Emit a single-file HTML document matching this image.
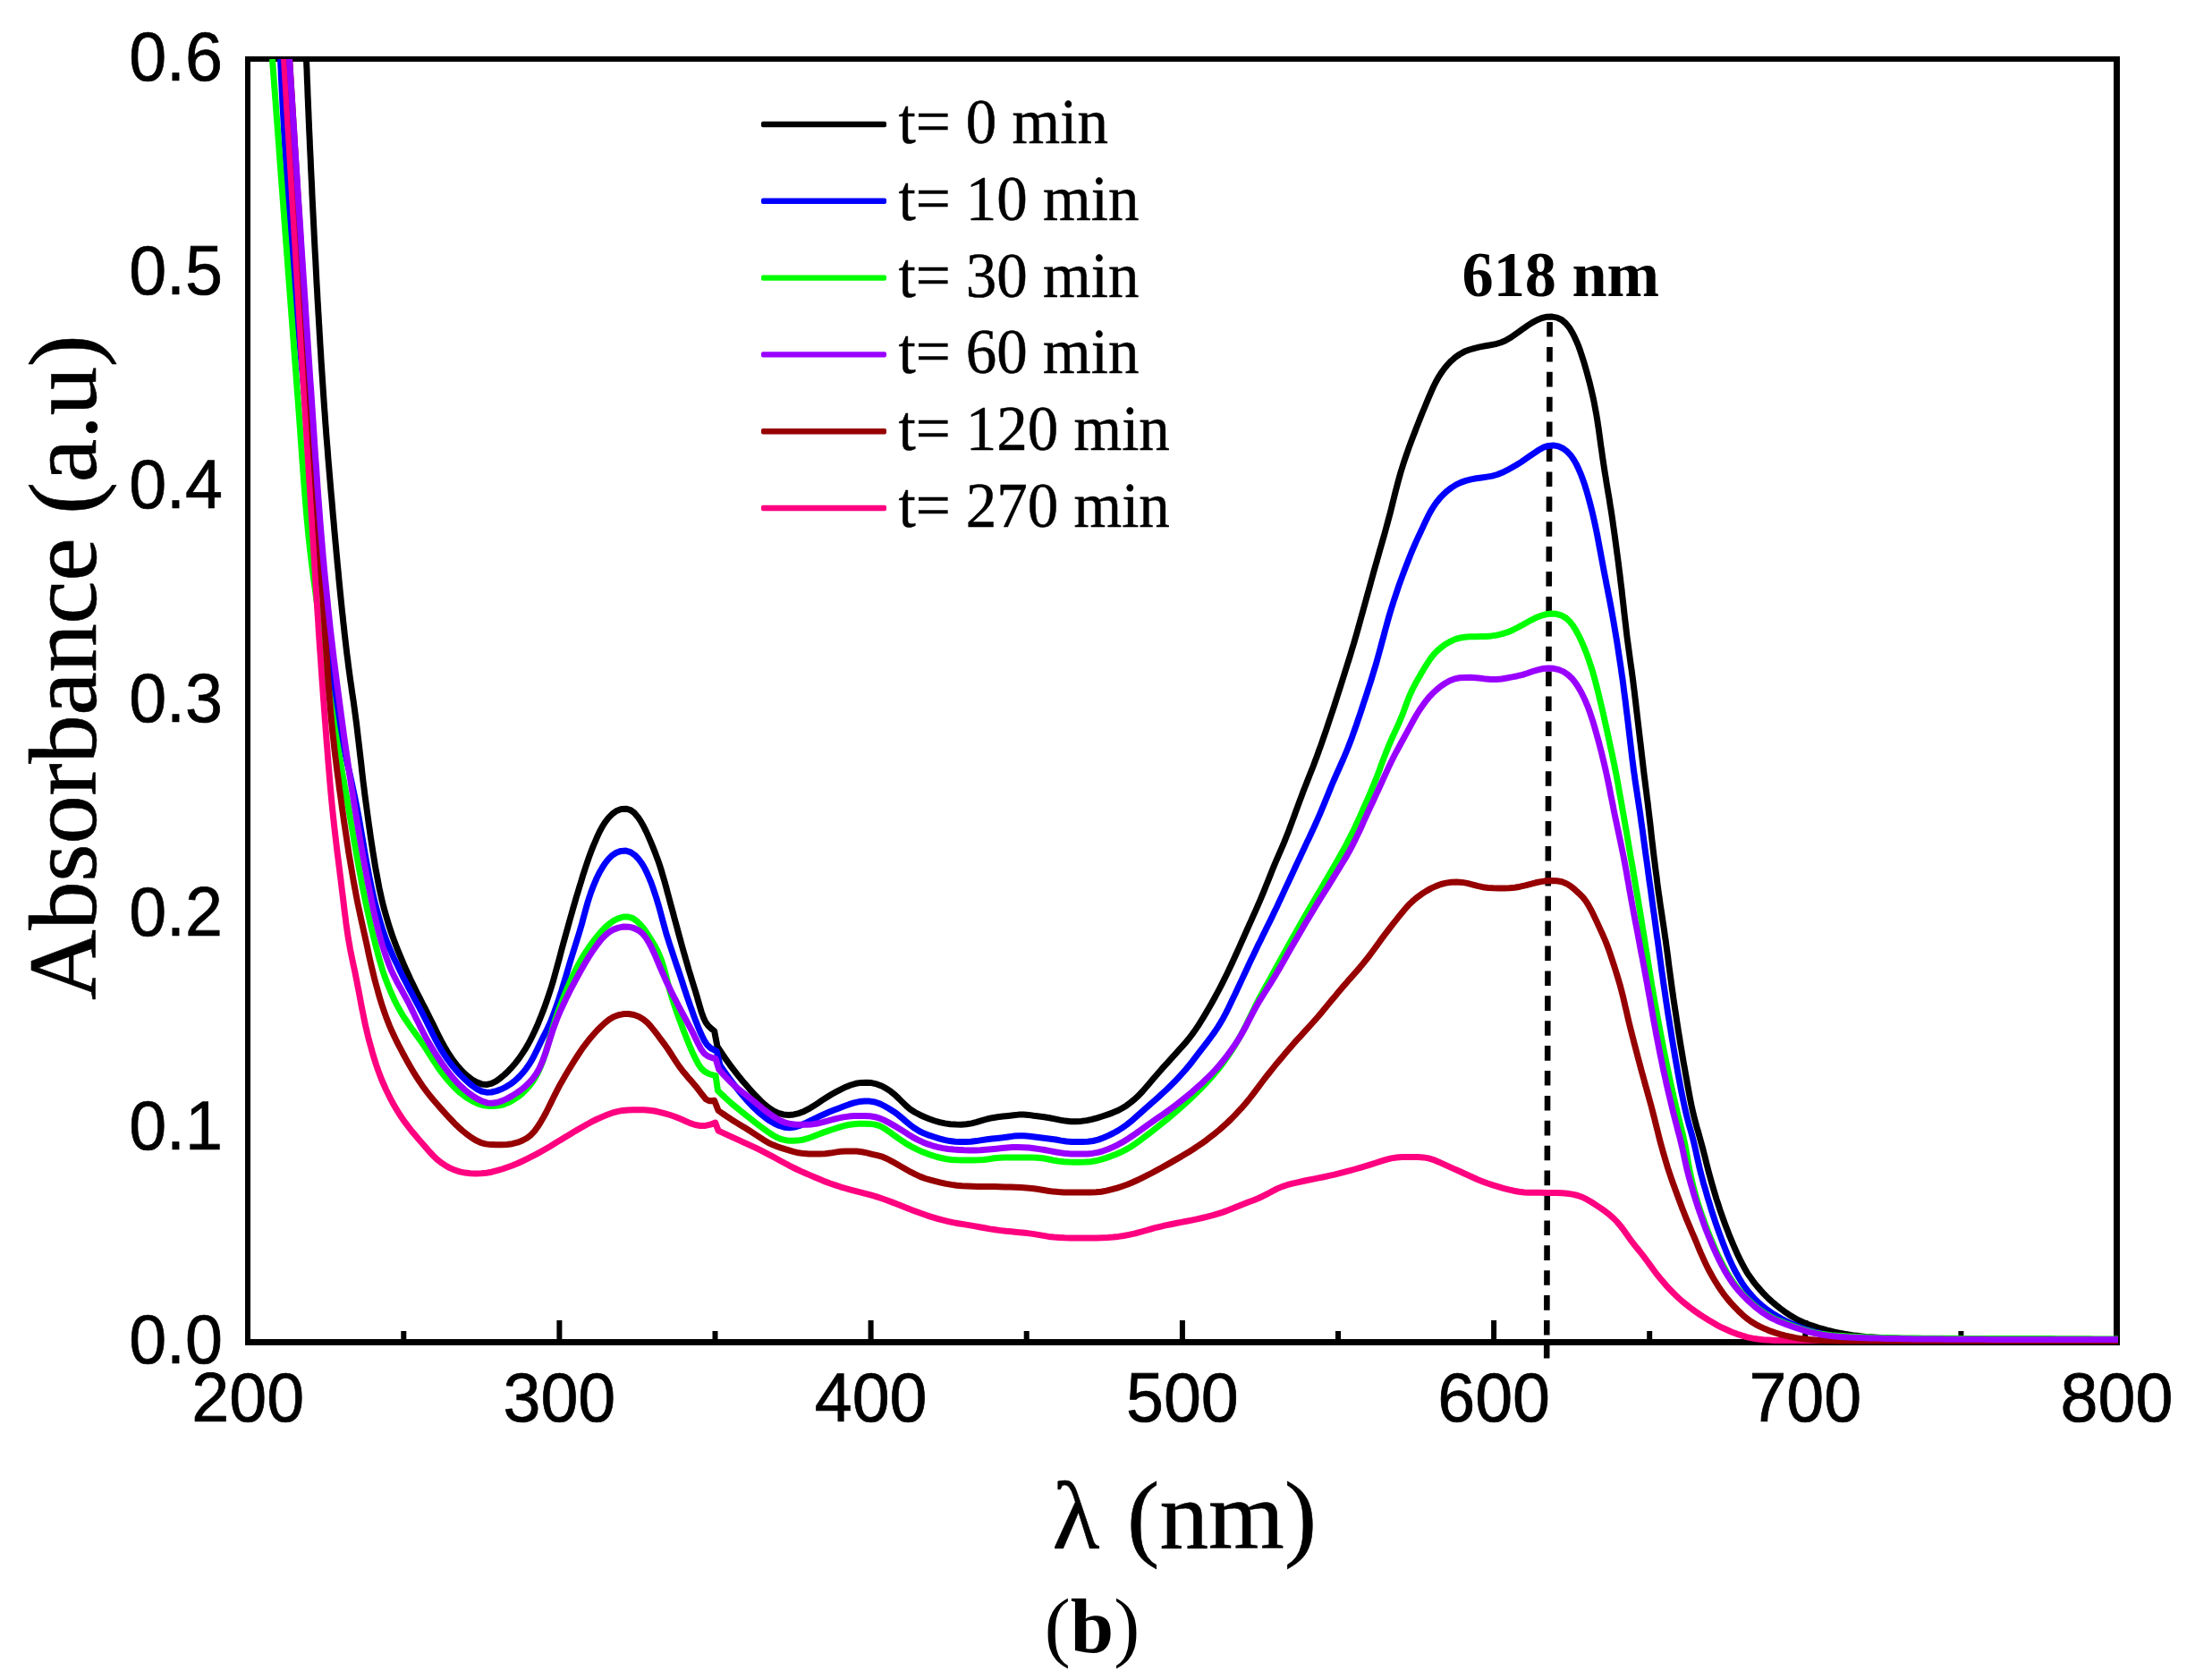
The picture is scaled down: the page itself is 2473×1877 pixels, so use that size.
<!DOCTYPE html>
<html lang="en">
<head>
<meta charset="utf-8">
<title>UV-Vis absorbance spectra (b)</title>
<style>
html,body{margin:0;padding:0;background:#ffffff;}
body{width:2473px;height:1877px;overflow:hidden;}
svg{display:block;}
.sans{font-family:"Liberation Sans",Arial,sans-serif;}
.serif{font-family:"Liberation Serif","Times New Roman",serif;}
</style>
</head>
<body>
<svg width="2473" height="1877" viewBox="0 0 2473 1877">
<rect x="0" y="0" width="2473" height="1877" fill="#ffffff"/>
<defs><clipPath id="plotclip"><rect x="277" y="66" width="2091" height="1437"/></clipPath></defs>

<g id="frame" fill="#000000" stroke="none">
<rect x="274" y="63" width="2096" height="6"/>
<rect x="274" y="1497" width="2096" height="7"/>
<rect x="274" y="63" width="6" height="1441"/>
<rect x="2363" y="63" width="7" height="1441"/>
<rect x="622.4" y="1476" width="6" height="22"/>
<rect x="970.6" y="1476" width="6" height="22"/>
<rect x="1318.9" y="1476" width="6" height="22"/>
<rect x="1667.1" y="1476" width="6" height="22"/>
<rect x="2015.3" y="1476" width="6" height="22"/>
<rect x="448.3" y="1488" width="6" height="10"/>
<rect x="796.5" y="1488" width="6" height="10"/>
<rect x="1144.7" y="1488" width="6" height="10"/>
<rect x="1493.0" y="1488" width="6" height="10"/>
<rect x="1841.2" y="1488" width="6" height="10"/>
<rect x="2189.4" y="1488" width="6" height="10"/>
</g>
<line id="peakline" x1="1732.6" y1="360" x2="1729.2" y2="1518.5" stroke="#000000" stroke-width="6.6" stroke-dasharray="16.6 11.3"/>
<g id="curves" fill="none" stroke-width="7.0" stroke-linejoin="round" stroke-linecap="butt" clip-path="url(#plotclip)">
<path id="c-black" stroke="#000000" d="M342.5 66.0L342.7 72.0L343.0 78.0L343.2 84.0L343.4 90.0L343.7 96.0L343.9 102.0L344.1 108.0L344.4 114.0L344.6 120.0L344.9 126.0L345.1 132.0L345.4 138.1L345.6 144.1L345.9 150.1L346.2 156.1L346.4 162.1L346.7 168.1L347.0 174.1L347.3 180.1L347.5 186.1L347.8 192.1L348.1 198.1L348.4 204.1L348.7 210.1L348.9 216.1L349.2 222.1L349.5 228.1L349.8 234.1L350.1 240.1L350.4 246.1L350.7 252.1L351.0 258.1L351.3 264.1L351.6 270.1L351.9 276.1L352.2 282.1L352.6 288.1L352.9 294.1L353.2 300.1L353.5 306.1L353.8 312.1L354.1 318.1L354.5 324.1L354.8 330.1L355.1 336.1L355.5 342.1L355.8 348.1L356.2 354.1L356.5 360.1L356.9 366.1L357.2 372.1L357.6 378.1L357.9 384.1L358.3 390.1L358.7 396.1L359.0 402.1L359.4 408.1L359.8 414.1L360.2 420.1L360.6 426.1L361.0 432.1L361.4 438.1L361.8 444.1L362.2 450.0L362.6 456.0L363.1 462.0L363.5 468.0L363.9 474.0L364.4 480.0L364.8 486.0L365.3 492.0L365.8 498.0L366.3 504.0L366.7 510.0L367.2 516.0L367.7 521.9L368.2 527.9L368.7 533.9L369.2 539.9L369.7 545.9L370.2 551.9L370.8 557.9L371.3 563.9L371.8 569.8L372.3 575.8L372.9 581.8L373.4 587.8L373.9 593.8L374.5 599.8L375.0 605.7L375.6 611.7L376.1 617.7L376.7 623.7L377.2 629.7L377.8 635.7L378.4 641.6L378.9 647.6L379.5 653.6L380.1 659.6L380.7 665.6L381.3 671.5L381.9 677.5L382.5 683.5L383.2 689.5L383.8 695.5L384.5 701.4L385.1 707.4L385.8 713.4L386.5 719.3L387.2 725.3L387.9 731.3L388.7 737.2L389.4 743.2L390.2 749.2L391.0 755.1L391.8 761.1L392.7 767.0L393.5 773.0L394.4 778.9L395.3 784.8L396.1 790.8L396.9 796.7L397.7 802.7L398.5 808.7L399.2 814.6L399.9 820.6L400.6 826.6L401.3 832.5L402.0 838.5L402.7 844.5L403.4 850.4L404.1 856.4L404.7 862.4L405.4 868.4L406.1 874.3L406.9 880.3L407.6 886.3L408.4 892.2L409.2 898.2L410.0 904.1L410.8 910.1L411.6 916.0L412.4 922.0L413.3 927.9L414.1 933.9L415.0 939.9L415.9 945.8L416.8 951.8L417.8 957.7L418.7 963.6L419.7 969.6L420.8 975.5L421.9 981.4L423.0 987.3L424.1 993.2L425.4 999.0L426.7 1004.9L428.1 1010.7L429.6 1016.5L431.2 1022.3L432.9 1028.1L434.6 1033.9L436.5 1039.6L438.4 1045.3L440.4 1050.9L442.5 1056.5L444.7 1062.1L447.0 1067.7L449.3 1073.2L451.7 1078.8L454.1 1084.3L456.6 1089.7L459.1 1095.2L461.7 1100.6L464.4 1106.0L467.0 1111.4L469.8 1116.7L472.5 1122.1L475.3 1127.4L478.0 1132.8L480.7 1138.2L483.4 1143.6L486.1 1149.0L488.7 1154.5L491.4 1159.9L494.2 1165.3L497.1 1170.5L500.1 1175.6L503.4 1180.6L506.8 1185.6L510.5 1190.4L514.5 1195.1L518.6 1199.5L523.1 1203.4L527.9 1207.0L533.0 1209.9L538.4 1211.9L543.9 1212.5L549.2 1211.4L554.4 1208.8L559.3 1205.3L564.0 1201.4L568.4 1197.2L572.5 1192.8L576.5 1188.2L580.2 1183.4L583.6 1178.4L586.9 1173.4L589.9 1168.3L592.7 1163.1L595.4 1157.7L598.0 1152.3L600.5 1146.8L602.8 1141.2L605.1 1135.5L607.3 1129.9L609.4 1124.2L611.4 1118.5L613.3 1112.9L615.2 1107.2L617.0 1101.5L618.7 1095.7L620.3 1089.9L621.9 1084.1L623.5 1078.3L625.1 1072.5L626.6 1066.7L628.1 1060.9L629.7 1055.0L631.3 1049.2L632.9 1043.4L634.5 1037.7L636.1 1031.9L637.7 1026.1L639.4 1020.3L641.0 1014.5L642.7 1008.7L644.3 1003.0L646.1 997.2L647.8 991.4L649.6 985.7L651.3 979.9L653.2 974.2L655.0 968.5L656.9 962.8L658.9 957.1L661.0 951.5L663.2 945.9L665.6 940.3L668.0 934.7L670.7 929.1L673.5 923.8L676.7 918.8L680.4 914.1L684.6 909.9L689.3 906.5L694.6 904.5L699.9 904.2L705.0 905.7L709.4 908.9L713.2 913.4L716.5 918.4L719.5 923.7L722.2 929.1L724.7 934.6L727.1 940.1L729.4 945.7L731.7 951.3L733.8 956.9L735.9 962.5L737.8 968.2L739.6 973.9L741.3 979.7L743.0 985.5L744.6 991.3L746.1 997.1L747.7 1002.9L749.2 1008.7L750.8 1014.5L752.4 1020.3L753.9 1026.1L755.5 1031.9L757.1 1037.7L758.6 1043.5L760.2 1049.3L761.8 1055.1L763.4 1060.9L765.1 1066.7L766.7 1072.4L768.4 1078.2L770.0 1084.0L771.8 1089.8L773.5 1095.5L775.3 1101.3L777.1 1107.0L778.9 1112.9L780.6 1119.0L782.4 1125.2L784.2 1131.3L786.3 1137.2L788.7 1142.4L791.8 1146.8L795.7 1150.4L798.6 1152.5L802.0 1170.0L805.3 1175.0L808.7 1180.0L812.1 1184.9L815.6 1189.8L819.2 1194.6L822.9 1199.4L826.6 1204.1L830.4 1208.7L834.4 1213.3L838.3 1217.8L842.4 1222.3L846.6 1226.7L850.8 1231.0L855.2 1235.1L859.9 1238.8L864.9 1242.0L870.2 1244.4L875.9 1245.9L881.7 1246.4L887.5 1245.9L893.2 1244.6L898.8 1242.4L904.1 1239.7L909.3 1236.6L914.3 1233.3L919.3 1229.9L924.3 1226.7L929.5 1223.5L934.7 1220.6L940.1 1217.8L945.5 1215.2L951.1 1213.0L956.8 1211.3L962.6 1210.4L968.5 1210.2L974.4 1210.6L980.1 1211.9L985.6 1214.0L990.9 1216.8L995.9 1220.2L1000.6 1224.0L1004.9 1228.1L1009.2 1232.4L1013.4 1236.5L1017.9 1240.3L1022.9 1243.5L1028.2 1246.2L1033.7 1248.7L1039.3 1251.0L1044.9 1253.0L1050.7 1254.6L1056.5 1255.9L1062.5 1256.7L1068.5 1257.1L1074.4 1257.2L1080.4 1256.8L1086.2 1255.9L1092.0 1254.4L1097.7 1252.7L1103.5 1251.0L1109.4 1249.7L1115.3 1248.8L1121.3 1248.1L1127.2 1247.5L1133.1 1246.8L1138.9 1246.1L1144.5 1245.9L1150.0 1246.4L1155.6 1247.2L1161.5 1247.9L1167.4 1248.7L1173.4 1249.7L1179.3 1250.9L1185.2 1252.1L1191.1 1253.1L1197.0 1253.7L1203.0 1253.8L1208.9 1253.4L1214.9 1252.6L1220.7 1251.3L1226.5 1249.8L1232.3 1248.0L1238.0 1246.1L1243.6 1244.1L1249.1 1241.8L1254.4 1239.0L1259.5 1235.9L1264.3 1232.3L1268.9 1228.5L1273.3 1224.4L1277.4 1220.0L1281.3 1215.5L1285.2 1210.9L1289.1 1206.3L1293.1 1201.7L1297.0 1197.2L1301.0 1192.7L1305.0 1188.3L1309.0 1183.8L1313.1 1179.3L1317.1 1174.9L1321.2 1170.4L1325.2 1165.9L1329.0 1161.3L1332.6 1156.6L1336.1 1151.7L1339.5 1146.8L1342.7 1141.7L1345.8 1136.6L1348.9 1131.4L1351.9 1126.2L1354.9 1121.0L1357.8 1115.7L1360.7 1110.4L1363.5 1105.1L1366.2 1099.8L1368.9 1094.4L1371.6 1089.0L1374.2 1083.6L1376.7 1078.2L1379.2 1072.7L1381.7 1067.2L1384.2 1061.8L1386.6 1056.3L1389.1 1050.8L1391.5 1045.3L1394.0 1039.8L1396.4 1034.3L1398.9 1028.9L1401.3 1023.4L1403.8 1017.9L1406.2 1012.4L1408.6 1006.9L1410.9 1001.4L1413.2 995.8L1415.4 990.2L1417.7 984.7L1419.9 979.1L1422.1 973.5L1424.4 967.9L1426.7 962.4L1429.1 956.9L1431.5 951.4L1433.9 945.9L1436.2 940.3L1438.4 934.8L1440.6 929.2L1442.7 923.6L1444.8 917.9L1446.9 912.3L1448.9 906.6L1451.0 901.0L1453.1 895.3L1455.2 889.7L1457.3 884.1L1459.5 878.5L1461.7 872.9L1463.9 867.3L1466.1 861.8L1468.3 856.2L1470.4 850.5L1472.5 844.9L1474.5 839.3L1476.6 833.6L1478.6 827.9L1480.5 822.3L1482.5 816.6L1484.4 810.9L1486.3 805.2L1488.2 799.5L1490.1 793.8L1492.0 788.1L1493.8 782.4L1495.6 776.7L1497.5 770.9L1499.3 765.2L1501.1 759.5L1502.9 753.8L1504.7 748.0L1506.5 742.3L1508.3 736.6L1510.1 730.8L1511.8 725.1L1513.6 719.3L1515.2 713.6L1516.9 707.8L1518.5 702.0L1520.1 696.2L1521.7 690.4L1523.3 684.7L1524.9 678.9L1526.5 673.1L1528.1 667.3L1529.7 661.5L1531.3 655.7L1532.9 649.9L1534.5 644.1L1536.1 638.3L1537.7 632.6L1539.4 626.8L1541.0 621.0L1542.6 615.2L1544.3 609.5L1545.9 603.7L1547.6 597.9L1549.2 592.1L1550.8 586.3L1552.3 580.5L1553.9 574.7L1555.4 568.9L1556.8 563.1L1558.3 557.2L1559.7 551.4L1561.2 545.6L1562.7 539.8L1564.3 534.0L1565.9 528.2L1567.7 522.5L1569.5 516.8L1571.4 511.1L1573.4 505.4L1575.4 499.7L1577.5 494.1L1579.6 488.5L1581.8 482.9L1583.9 477.3L1586.1 471.7L1588.3 466.1L1590.6 460.5L1592.9 455.0L1595.2 449.4L1597.5 443.9L1599.9 438.3L1602.4 432.8L1605.0 427.5L1607.9 422.2L1611.1 417.1L1614.6 412.3L1618.4 407.6L1622.6 403.3L1627.1 399.4L1632.0 396.0L1637.2 393.1L1642.7 391.0L1648.4 389.3L1654.3 387.9L1660.3 386.8L1666.2 385.8L1672.1 384.6L1677.7 383.0L1683.1 380.8L1688.2 377.8L1693.2 374.4L1698.2 370.9L1703.1 367.3L1708.0 363.9L1713.1 360.6L1718.4 357.7L1723.9 355.5L1729.6 354.2L1735.3 354.1L1740.8 355.1L1745.9 357.5L1750.3 361.2L1754.1 365.7L1757.3 370.8L1760.1 376.2L1762.6 381.7L1764.9 387.2L1766.9 392.8L1768.8 398.6L1770.6 404.3L1772.3 410.1L1774.0 415.9L1775.5 421.7L1777.1 427.5L1778.5 433.3L1779.9 439.2L1781.2 445.1L1782.4 450.9L1783.5 456.8L1784.6 462.7L1785.6 468.7L1786.5 474.6L1787.4 480.5L1788.2 486.5L1789.0 492.4L1789.8 498.4L1790.7 504.3L1791.5 510.3L1792.4 516.2L1793.3 522.2L1794.2 528.1L1795.2 534.0L1796.1 540.0L1797.1 545.9L1798.1 551.8L1799.1 557.7L1800.0 563.7L1801.0 569.6L1801.9 575.5L1802.8 581.5L1803.6 587.4L1804.5 593.4L1805.3 599.3L1806.1 605.3L1806.9 611.2L1807.7 617.2L1808.5 623.1L1809.3 629.1L1810.0 635.0L1810.8 641.0L1811.5 647.0L1812.2 652.9L1813.0 658.9L1813.6 664.8L1814.3 670.8L1815.0 676.8L1815.6 682.7L1816.3 688.7L1817.0 694.7L1817.7 700.7L1818.4 706.6L1819.1 712.6L1819.9 718.5L1820.7 724.5L1821.5 730.4L1822.3 736.4L1823.1 742.3L1824.0 748.3L1824.8 754.2L1825.6 760.2L1826.3 766.1L1827.1 772.1L1827.8 778.1L1828.5 784.0L1829.2 790.0L1829.9 796.0L1830.6 801.9L1831.3 807.9L1832.0 813.9L1832.7 819.8L1833.4 825.8L1834.1 831.7L1834.8 837.7L1835.5 843.7L1836.2 849.6L1836.9 855.6L1837.6 861.6L1838.3 867.5L1839.1 873.5L1839.8 879.4L1840.6 885.4L1841.3 891.4L1842.1 897.3L1842.8 903.3L1843.5 909.3L1844.2 915.2L1844.9 921.2L1845.6 927.1L1846.2 933.1L1846.9 939.1L1847.6 945.0L1848.3 951.0L1849.0 957.0L1849.8 962.9L1850.5 968.9L1851.3 974.9L1852.1 980.8L1852.8 986.8L1853.6 992.7L1854.4 998.7L1855.3 1004.6L1856.1 1010.6L1857.0 1016.5L1857.9 1022.4L1858.8 1028.4L1859.7 1034.3L1860.6 1040.3L1861.4 1046.2L1862.3 1052.1L1863.1 1058.1L1863.9 1064.0L1864.7 1070.0L1865.4 1076.0L1866.2 1081.9L1867.0 1087.9L1867.8 1093.8L1868.6 1099.8L1869.4 1105.7L1870.3 1111.7L1871.1 1117.6L1872.0 1123.6L1872.9 1129.5L1873.8 1135.4L1874.7 1141.4L1875.6 1147.3L1876.5 1153.2L1877.5 1159.2L1878.4 1165.1L1879.4 1171.0L1880.4 1176.9L1881.4 1182.9L1882.4 1188.8L1883.5 1194.7L1884.5 1200.6L1885.6 1206.5L1886.6 1212.4L1887.7 1218.4L1888.8 1224.3L1889.9 1230.2L1891.1 1236.1L1892.4 1241.9L1893.8 1247.7L1895.3 1253.6L1896.8 1259.4L1898.5 1265.1L1900.1 1270.9L1901.7 1276.7L1903.3 1282.5L1904.8 1288.3L1906.3 1294.1L1907.7 1300.0L1909.2 1305.8L1910.7 1311.6L1912.3 1317.4L1913.9 1323.2L1915.6 1329.0L1917.3 1334.7L1919.0 1340.5L1920.9 1346.2L1922.7 1351.9L1924.7 1357.6L1926.7 1363.2L1928.7 1368.9L1930.9 1374.5L1933.0 1380.1L1935.3 1385.7L1937.6 1391.2L1940.0 1396.7L1942.5 1402.2L1945.1 1407.6L1947.8 1412.9L1950.7 1418.2L1953.7 1423.4L1957.1 1428.3L1960.6 1433.2L1964.4 1437.9L1968.3 1442.4L1972.3 1446.8L1976.6 1451.1L1981.0 1455.1L1985.6 1459.0L1990.3 1462.7L1995.1 1466.3L2000.1 1469.7L2005.2 1472.8L2010.4 1475.7L2015.9 1478.2L2021.4 1480.5L2027.1 1482.4L2032.8 1484.3L2038.6 1485.9L2044.4 1487.5L2050.2 1488.9L2056.1 1490.1L2062.0 1491.3L2067.9 1492.2L2073.9 1493.1L2079.8 1493.8L2085.8 1494.4L2091.8 1494.8L2097.7 1495.2L2103.7 1495.5L2109.7 1495.8L2115.7 1496.1L2121.8 1496.3L2127.8 1496.5L2133.8 1496.7L2139.8 1496.8L2145.8 1496.9L2151.8 1497.0L2157.8 1497.1L2163.8 1497.1L2169.8 1497.2L2175.8 1497.2L2181.8 1497.3L2187.8 1497.3L2193.8 1497.4L2199.8 1497.4L2205.8 1497.5L2211.8 1497.5L2217.8 1497.5L2223.8 1497.6L2229.8 1497.6L2235.8 1497.6L2241.9 1497.7L2247.9 1497.7L2253.9 1497.7L2259.9 1497.8L2265.9 1497.8L2271.9 1497.8L2277.9 1497.8L2283.9 1497.9L2289.9 1497.9L2295.9 1497.9L2301.9 1497.9L2307.9 1497.9L2313.9 1497.9L2319.9 1498.0L2325.9 1498.0L2331.9 1498.0L2338.0 1498.0L2344.0 1498.0L2350.0 1498.0L2356.0 1498.0L2362.0 1498.0L2368.0 1498.0L2370.0 1498.0"/>
<path id="c-blue" stroke="#0000ff" d="M313.5 66.0L313.8 72.0L314.1 78.0L314.3 84.0L314.6 90.0L314.9 96.0L315.2 102.0L315.5 108.0L315.8 114.0L316.1 120.1L316.5 126.1L316.8 132.1L317.1 138.1L317.5 144.1L317.8 150.1L318.1 156.1L318.5 162.1L318.9 168.1L319.2 174.1L319.6 180.1L319.9 186.1L320.3 192.1L320.7 198.1L321.1 204.1L321.5 210.1L321.8 216.1L322.2 222.1L322.6 228.1L323.0 234.1L323.4 240.1L323.8 246.1L324.3 252.1L324.7 258.0L325.1 264.0L325.5 270.0L325.9 276.0L326.4 282.0L326.8 288.0L327.3 294.0L327.8 300.0L328.2 306.0L328.7 312.0L329.2 318.0L329.7 324.0L330.2 330.0L330.8 335.9L331.3 341.9L331.8 347.9L332.3 353.9L332.9 359.9L333.4 365.9L334.0 371.9L334.5 377.9L335.1 383.9L335.6 389.8L336.1 395.8L336.7 401.8L337.2 407.8L337.8 413.8L338.3 419.8L338.9 425.8L339.4 431.8L339.9 437.7L340.5 443.7L341.0 449.7L341.5 455.7L342.0 461.7L342.5 467.7L343.0 473.7L343.5 479.7L344.0 485.7L344.5 491.7L345.0 497.6L345.5 503.6L346.0 509.6L346.5 515.6L347.0 521.6L347.5 527.6L348.0 533.6L348.5 539.6L349.0 545.6L349.6 551.6L350.1 557.6L350.6 563.5L351.2 569.5L351.7 575.5L352.2 581.5L352.8 587.5L353.4 593.5L354.0 599.4L354.5 605.4L355.1 611.4L355.8 617.4L356.4 623.4L357.0 629.3L357.6 635.3L358.3 641.3L359.0 647.3L359.6 653.3L360.3 659.2L361.0 665.2L361.6 671.2L362.3 677.1L363.0 683.1L363.7 689.1L364.4 695.1L365.1 701.0L365.8 707.0L366.5 713.0L367.2 719.0L367.9 724.9L368.6 730.9L369.3 736.9L370.0 742.9L370.7 748.8L371.5 754.8L372.2 760.8L373.0 766.7L373.8 772.7L374.6 778.6L375.4 784.6L376.3 790.5L377.2 796.5L378.1 802.4L379.1 808.3L380.2 814.2L381.3 820.1L382.5 826.0L383.7 831.9L385.0 837.8L386.2 843.6L387.5 849.5L388.8 855.4L390.2 861.3L391.5 867.1L392.8 873.0L394.1 878.9L395.3 884.8L396.6 890.7L397.8 896.6L398.9 902.5L400.1 908.4L401.2 914.3L402.2 920.2L403.2 926.1L404.3 932.1L405.3 938.0L406.3 943.9L407.3 949.9L408.3 955.8L409.4 961.7L410.5 967.6L411.6 973.5L412.7 979.4L413.9 985.3L415.1 991.2L416.4 997.1L417.7 1002.9L419.1 1008.7L420.6 1014.6L422.2 1020.4L423.8 1026.2L425.5 1032.0L427.3 1037.7L429.2 1043.4L431.2 1049.1L433.3 1054.7L435.6 1060.2L438.0 1065.7L440.5 1071.2L443.1 1076.6L445.7 1082.1L448.3 1087.5L451.0 1092.8L453.8 1098.2L456.5 1103.5L459.4 1108.8L462.2 1114.1L465.0 1119.4L467.9 1124.7L470.7 1130.1L473.5 1135.4L476.2 1140.8L478.9 1146.2L481.6 1151.6L484.2 1157.0L487.0 1162.4L489.9 1167.7L492.8 1172.8L496.0 1177.9L499.3 1182.9L502.9 1187.8L506.6 1192.6L510.5 1197.2L514.6 1201.6L518.9 1205.9L523.4 1210.0L528.2 1214.0L533.2 1217.5L538.4 1220.0L543.9 1221.2L549.4 1221.0L555.1 1219.6L560.8 1217.5L566.1 1214.8L571.2 1211.6L575.9 1208.0L580.3 1203.9L584.5 1199.4L588.3 1194.6L591.7 1189.7L594.8 1184.6L597.6 1179.3L600.2 1173.9L602.9 1168.4L605.5 1163.0L608.2 1157.6L610.9 1152.2L613.5 1146.8L615.9 1141.3L618.1 1135.7L620.2 1130.1L622.2 1124.4L624.2 1118.7L626.0 1113.0L627.9 1107.3L629.6 1101.5L631.4 1095.8L633.1 1090.0L634.8 1084.2L636.5 1078.5L638.2 1072.7L640.0 1067.0L641.8 1061.2L643.6 1055.5L645.4 1049.8L647.2 1044.0L648.9 1038.3L650.6 1032.5L652.1 1026.7L653.7 1020.8L655.3 1015.0L656.9 1009.3L658.7 1003.5L660.6 997.8L662.7 992.2L665.0 986.6L667.4 981.0L670.1 975.6L673.1 970.4L676.3 965.3L680.0 960.6L684.2 956.4L689.0 953.3L694.2 951.4L699.7 951.1L704.9 952.7L709.6 955.8L713.7 960.0L717.3 964.8L720.4 970.0L723.1 975.3L725.5 980.8L727.8 986.4L729.9 992.1L731.8 997.8L733.7 1003.5L735.4 1009.3L737.1 1015.1L738.7 1020.9L740.2 1026.7L741.8 1032.5L743.4 1038.3L745.0 1044.1L746.8 1049.8L748.6 1055.5L750.5 1061.2L752.4 1066.9L754.3 1072.6L756.2 1078.3L758.2 1084.0L760.1 1089.7L762.0 1095.4L763.8 1101.1L765.7 1106.9L767.6 1112.6L769.6 1118.3L771.5 1123.9L773.6 1129.6L775.6 1135.3L777.7 1140.9L779.9 1146.5L782.2 1152.2L784.7 1157.8L787.4 1163.3L790.6 1168.1L794.7 1171.8L799.6 1174.4L801.3 1175.2L804.9 1190.6L808.3 1195.6L811.7 1200.5L815.2 1205.4L818.8 1210.2L822.5 1215.0L826.2 1219.7L830.0 1224.3L834.0 1228.9L838.0 1233.4L842.2 1237.7L846.5 1241.8L851.0 1245.8L855.8 1249.6L860.7 1253.0L865.8 1256.0L871.3 1258.5L876.9 1260.2L882.6 1260.8L888.3 1260.1L893.9 1258.4L899.4 1256.1L904.8 1253.5L910.2 1250.8L915.7 1248.2L921.1 1245.7L926.6 1243.3L932.2 1241.1L937.8 1238.9L943.4 1236.8L949.1 1234.7L954.8 1232.9L960.5 1231.6L966.4 1231.0L972.3 1231.1L978.1 1232.0L983.6 1233.8L988.9 1236.5L994.1 1239.5L999.2 1242.7L1004.0 1246.2L1008.6 1250.0L1013.2 1254.0L1017.8 1257.8L1022.6 1261.3L1027.7 1264.5L1033.1 1267.1L1038.6 1269.2L1044.3 1271.0L1050.1 1272.8L1055.9 1274.4L1061.7 1275.6L1067.6 1276.3L1073.6 1276.5L1079.6 1276.5L1085.6 1276.2L1091.5 1275.6L1097.4 1274.6L1103.3 1273.7L1109.2 1273.0L1115.2 1272.4L1121.2 1271.8L1127.1 1271.0L1133.0 1270.1L1138.9 1269.7L1144.9 1269.7L1150.8 1270.2L1156.7 1271.0L1162.7 1271.8L1168.6 1272.5L1174.6 1273.2L1180.5 1274.0L1186.3 1275.1L1192.2 1276.0L1198.2 1276.4L1204.2 1276.6L1210.2 1276.5L1216.1 1276.2L1222.0 1275.5L1227.7 1274.1L1233.4 1272.0L1238.9 1269.6L1244.3 1267.0L1249.6 1264.1L1254.7 1260.9L1259.5 1257.5L1264.2 1253.8L1268.7 1249.9L1273.2 1245.8L1277.7 1241.8L1282.2 1237.8L1286.7 1233.8L1291.3 1229.9L1295.8 1225.9L1300.2 1221.8L1304.6 1217.7L1308.9 1213.5L1313.1 1209.3L1317.3 1204.9L1321.3 1200.5L1325.3 1196.0L1329.1 1191.4L1332.9 1186.7L1336.6 1181.9L1340.2 1177.2L1343.9 1172.4L1347.6 1167.6L1351.2 1162.8L1354.8 1158.0L1358.3 1153.1L1361.6 1148.1L1364.7 1143.1L1367.7 1137.9L1370.5 1132.6L1373.2 1127.2L1375.8 1121.8L1378.4 1116.3L1381.0 1110.9L1383.5 1105.5L1386.1 1100.0L1388.6 1094.6L1391.2 1089.1L1393.7 1083.7L1396.2 1078.2L1398.8 1072.8L1401.4 1067.4L1404.0 1062.0L1406.6 1056.6L1409.3 1051.2L1411.9 1045.8L1414.6 1040.4L1417.2 1035.0L1419.9 1029.6L1422.5 1024.2L1425.1 1018.8L1427.7 1013.4L1430.2 1007.9L1432.8 1002.5L1435.3 997.1L1437.8 991.6L1440.4 986.2L1442.9 980.7L1445.5 975.3L1448.0 969.8L1450.5 964.4L1453.1 958.9L1455.6 953.5L1458.2 948.1L1460.7 942.6L1463.3 937.2L1465.8 931.7L1468.4 926.3L1470.9 920.8L1473.3 915.4L1475.7 909.8L1478.0 904.3L1480.3 898.8L1482.6 893.2L1484.9 887.6L1487.1 882.1L1489.4 876.5L1491.8 871.0L1494.2 865.5L1496.7 860.0L1499.1 854.5L1501.6 849.0L1503.9 843.5L1506.2 838.0L1508.4 832.4L1510.6 826.8L1512.6 821.1L1514.6 815.5L1516.6 809.8L1518.5 804.1L1520.5 798.4L1522.4 792.7L1524.2 787.0L1526.1 781.3L1528.0 775.6L1529.8 769.9L1531.7 764.2L1533.5 758.4L1535.2 752.7L1537.0 746.9L1538.7 741.2L1540.3 735.4L1541.9 729.6L1543.5 723.8L1545.0 718.0L1546.6 712.2L1548.1 706.4L1549.7 700.6L1551.3 694.8L1552.9 689.0L1554.6 683.3L1556.4 677.5L1558.2 671.8L1560.1 666.1L1562.0 660.4L1563.9 654.7L1565.9 649.1L1568.0 643.4L1570.1 637.8L1572.2 632.2L1574.4 626.6L1576.6 621.0L1578.9 615.4L1581.3 609.9L1583.7 604.4L1586.2 599.0L1588.8 593.5L1591.3 588.1L1593.9 582.6L1596.5 577.2L1599.3 571.9L1602.4 566.7L1605.8 561.8L1609.5 557.2L1613.6 552.8L1618.1 548.7L1622.8 545.1L1627.9 541.9L1633.2 539.4L1638.8 537.4L1644.6 535.9L1650.5 534.8L1656.5 534.0L1662.4 533.1L1668.3 532.1L1674.0 530.5L1679.5 528.3L1684.9 525.7L1690.2 522.8L1695.4 519.8L1700.5 516.6L1705.5 513.2L1710.5 509.7L1715.4 506.3L1720.4 503.0L1725.6 500.2L1731.1 498.4L1736.7 497.9L1742.2 498.9L1747.4 501.3L1752.1 504.8L1756.1 509.1L1759.5 513.9L1762.4 519.1L1765.0 524.6L1767.4 530.1L1769.5 535.8L1771.5 541.4L1773.3 547.2L1775.0 552.9L1776.6 558.7L1778.1 564.5L1779.6 570.4L1781.0 576.2L1782.3 582.1L1783.6 587.9L1784.8 593.8L1786.0 599.7L1787.1 605.6L1788.2 611.5L1789.3 617.4L1790.4 623.3L1791.5 629.2L1792.6 635.1L1793.7 641.0L1794.9 646.9L1796.0 652.8L1797.2 658.7L1798.3 664.6L1799.5 670.5L1800.6 676.4L1801.7 682.3L1802.7 688.2L1803.8 694.2L1804.8 700.1L1805.8 706.0L1806.8 711.9L1807.8 717.8L1808.7 723.8L1809.6 729.7L1810.5 735.7L1811.4 741.6L1812.3 747.5L1813.1 753.5L1814.0 759.4L1814.8 765.4L1815.5 771.3L1816.3 777.3L1817.1 783.3L1817.8 789.2L1818.5 795.2L1819.3 801.1L1820.0 807.1L1820.7 813.1L1821.4 819.0L1822.1 825.0L1822.8 831.0L1823.5 836.9L1824.2 842.9L1824.9 848.9L1825.7 854.8L1826.4 860.8L1827.3 866.7L1828.1 872.7L1829.0 878.6L1829.9 884.6L1830.8 890.5L1831.7 896.4L1832.6 902.4L1833.5 908.3L1834.3 914.3L1835.1 920.2L1836.0 926.2L1836.8 932.1L1837.6 938.1L1838.4 944.0L1839.2 950.0L1840.0 955.9L1840.9 961.9L1841.7 967.8L1842.5 973.8L1843.3 979.7L1844.1 985.7L1845.0 991.6L1845.8 997.6L1846.6 1003.5L1847.4 1009.5L1848.2 1015.4L1849.1 1021.4L1849.9 1027.3L1850.7 1033.3L1851.5 1039.2L1852.3 1045.2L1853.2 1051.1L1854.0 1057.1L1854.8 1063.0L1855.6 1069.0L1856.4 1074.9L1857.2 1080.9L1858.0 1086.8L1858.9 1092.8L1859.7 1098.7L1860.6 1104.7L1861.5 1110.6L1862.3 1116.6L1863.2 1122.5L1864.1 1128.4L1865.0 1134.4L1866.0 1140.3L1866.9 1146.2L1867.9 1152.2L1868.8 1158.1L1869.8 1164.0L1870.8 1170.0L1871.8 1175.9L1872.8 1181.8L1873.8 1187.7L1874.9 1193.6L1875.9 1199.6L1877.0 1205.5L1878.1 1211.4L1879.2 1217.3L1880.4 1223.2L1881.6 1229.1L1882.8 1234.9L1884.1 1240.8L1885.5 1246.6L1887.0 1252.5L1888.5 1258.3L1890.2 1264.0L1891.8 1269.8L1893.3 1275.6L1894.7 1281.5L1896.0 1287.3L1897.3 1293.2L1898.6 1299.1L1899.9 1304.9L1901.3 1310.8L1902.9 1316.6L1904.4 1322.4L1906.1 1328.1L1907.8 1333.9L1909.4 1339.7L1911.2 1345.4L1912.9 1351.2L1914.7 1356.9L1916.6 1362.6L1918.5 1368.3L1920.5 1374.0L1922.5 1379.6L1924.6 1385.3L1926.7 1390.9L1928.9 1396.5L1931.1 1402.1L1933.5 1407.6L1936.0 1413.1L1938.6 1418.5L1941.4 1423.8L1944.4 1429.0L1947.5 1434.1L1950.9 1439.1L1954.5 1443.9L1958.4 1448.4L1962.5 1452.8L1966.8 1457.0L1971.4 1460.9L1976.1 1464.5L1981.1 1467.9L1986.2 1471.0L1991.4 1474.0L1996.7 1476.8L2002.2 1479.4L2007.6 1481.8L2013.2 1484.0L2018.9 1486.0L2024.6 1487.8L2030.4 1489.5L2036.2 1490.9L2042.1 1492.3L2047.9 1493.5L2053.8 1494.7L2059.8 1495.7L2065.7 1496.5L2071.7 1496.9L2077.6 1497.1L2083.6 1497.2L2089.5 1497.3L2095.5 1497.4L2101.5 1497.4L2107.4 1497.5L2113.4 1497.5L2119.4 1497.6L2125.3 1497.6L2131.3 1497.7L2137.3 1497.7L2143.3 1497.7L2149.2 1497.8L2155.2 1497.8L2161.2 1497.8L2167.2 1497.9L2173.2 1497.9L2179.2 1497.9L2185.2 1498.0L2191.1 1498.0L2197.1 1498.0L2203.1 1498.0L2209.1 1498.1L2215.1 1498.1L2221.1 1498.1L2227.1 1498.1L2233.1 1498.1L2239.1 1498.2L2245.2 1498.2L2251.2 1498.2L2257.2 1498.2L2263.2 1498.2L2269.2 1498.2L2275.2 1498.2L2281.3 1498.2L2287.3 1498.3L2293.3 1498.3L2299.4 1498.3L2305.4 1498.3L2311.4 1498.3L2317.5 1498.3L2323.5 1498.3L2329.6 1498.3L2335.6 1498.3L2341.7 1498.3L2347.8 1498.3L2353.8 1498.3L2359.9 1498.3L2366.0 1498.3L2370.0 1498.3"/>
<path id="c-green" stroke="#00ff00" d="M304.5 66.0L304.9 72.0L305.4 78.0L305.8 84.0L306.3 90.0L306.7 96.0L307.2 101.9L307.6 107.9L308.1 113.9L308.5 119.9L309.0 125.9L309.4 131.9L309.9 137.9L310.3 143.9L310.8 149.9L311.2 155.9L311.7 161.9L312.1 167.9L312.5 173.8L313.0 179.8L313.4 185.8L313.9 191.8L314.3 197.8L314.8 203.8L315.2 209.8L315.7 215.8L316.1 221.8L316.6 227.8L317.0 233.8L317.5 239.7L317.9 245.7L318.4 251.7L318.8 257.7L319.3 263.7L319.7 269.7L320.2 275.7L320.6 281.7L321.1 287.7L321.5 293.7L322.0 299.7L322.4 305.7L322.9 311.6L323.3 317.6L323.8 323.6L324.2 329.6L324.7 335.6L325.1 341.6L325.6 347.6L326.0 353.6L326.5 359.6L326.9 365.6L327.4 371.6L327.8 377.5L328.3 383.5L328.7 389.5L329.2 395.5L329.6 401.5L330.1 407.5L330.5 413.5L331.0 419.5L331.4 425.5L331.9 431.5L332.3 437.5L332.8 443.4L333.3 449.4L333.7 455.4L334.2 461.4L334.6 467.4L335.0 473.4L335.5 479.4L335.9 485.4L336.3 491.4L336.8 497.4L337.2 503.4L337.6 509.4L338.0 515.4L338.5 521.4L338.9 527.4L339.4 533.4L339.8 539.3L340.3 545.3L340.7 551.3L341.2 557.3L341.7 563.3L342.2 569.3L342.7 575.3L343.2 581.3L343.8 587.2L344.4 593.2L344.9 599.2L345.6 605.2L346.2 611.1L346.9 617.1L347.6 623.1L348.3 629.0L349.1 635.0L349.8 640.9L350.6 646.9L351.5 652.8L352.3 658.8L353.1 664.8L353.9 670.7L354.8 676.7L355.6 682.6L356.4 688.6L357.2 694.5L358.1 700.5L358.9 706.4L359.7 712.4L360.5 718.3L361.3 724.3L362.1 730.2L362.9 736.2L363.7 742.2L364.5 748.1L365.3 754.1L366.2 760.0L367.0 766.0L367.8 771.9L368.7 777.9L369.6 783.8L370.5 789.7L371.4 795.7L372.3 801.6L373.2 807.5L374.1 813.5L375.1 819.4L376.1 825.3L377.1 831.3L378.1 837.2L379.1 843.1L380.1 849.0L381.2 854.9L382.2 860.9L383.2 866.8L384.3 872.7L385.3 878.6L386.4 884.5L387.4 890.5L388.5 896.4L389.5 902.3L390.5 908.2L391.5 914.1L392.6 920.1L393.6 926.0L394.6 931.9L395.6 937.8L396.6 943.7L397.7 949.7L398.7 955.6L399.7 961.5L400.8 967.4L401.9 973.3L403.0 979.2L404.1 985.1L405.2 991.0L406.4 996.9L407.6 1002.8L408.8 1008.7L410.1 1014.6L411.4 1020.4L412.7 1026.3L414.0 1032.2L415.4 1038.0L416.8 1043.8L418.2 1049.7L419.7 1055.5L421.2 1061.4L422.7 1067.2L424.3 1073.0L426.0 1078.7L427.7 1084.5L429.6 1090.2L431.6 1095.8L433.8 1101.4L436.1 1107.0L438.5 1112.5L441.0 1118.0L443.7 1123.4L446.5 1128.6L449.5 1133.8L452.7 1138.8L456.1 1143.8L459.5 1148.7L463.1 1153.6L466.6 1158.5L470.1 1163.4L473.5 1168.4L476.8 1173.4L480.1 1178.5L483.3 1183.6L486.6 1188.7L489.9 1193.6L493.4 1198.5L497.1 1203.2L501.0 1207.9L505.0 1212.4L509.2 1216.8L513.6 1220.9L518.3 1224.6L523.2 1228.0L528.4 1231.1L533.9 1233.6L539.5 1235.5L545.4 1236.4L551.2 1236.6L557.1 1236.1L562.9 1234.8L568.5 1232.6L573.8 1229.7L578.8 1226.4L583.5 1222.7L587.8 1218.5L591.9 1214.0L595.5 1209.1L598.7 1204.1L601.5 1198.9L603.9 1193.6L606.1 1188.2L608.1 1182.6L610.0 1176.9L611.7 1171.1L613.4 1165.3L615.1 1159.4L616.8 1153.4L618.5 1147.6L620.3 1141.7L622.2 1136.0L624.2 1130.3L626.3 1124.6L628.5 1119.0L630.7 1113.4L633.0 1107.8L635.3 1102.3L637.7 1096.7L640.2 1091.3L642.8 1085.9L645.5 1080.5L648.3 1075.3L651.3 1070.1L654.5 1064.9L657.8 1059.9L661.3 1055.0L664.9 1050.2L668.7 1045.5L672.7 1040.9L676.9 1036.5L681.4 1032.6L686.3 1029.2L691.5 1026.6L697.0 1025.0L702.4 1025.0L707.6 1026.7L712.2 1029.9L716.4 1034.1L720.2 1038.8L723.6 1043.7L726.9 1048.8L730.1 1054.0L733.1 1059.2L735.8 1064.6L738.1 1070.0L740.2 1075.6L742.0 1081.3L743.6 1087.1L745.1 1092.9L746.6 1098.8L748.1 1104.6L749.8 1110.4L751.5 1116.2L753.4 1121.9L755.3 1127.6L757.3 1133.3L759.3 1138.9L761.4 1144.5L763.5 1150.2L765.7 1155.8L767.9 1161.4L770.1 1167.0L772.5 1172.6L774.9 1178.1L777.6 1183.7L780.5 1189.2L783.8 1194.1L787.8 1197.9L792.6 1200.5L798.2 1202.1L800.1 1202.5L802.5 1219.2L806.8 1223.4L811.2 1227.5L815.6 1231.5L820.2 1235.5L824.8 1239.3L829.4 1243.1L834.1 1246.8L838.9 1250.5L843.6 1254.2L848.4 1257.9L853.2 1261.5L858.2 1265.1L863.2 1268.5L868.4 1271.5L873.8 1273.7L879.5 1274.9L885.3 1275.3L891.2 1275.1L897.0 1274.3L902.8 1272.7L908.4 1270.7L914.1 1268.5L919.7 1266.4L925.4 1264.4L931.1 1262.5L936.9 1260.6L942.6 1258.9L948.5 1257.5L954.4 1256.7L960.4 1256.3L966.4 1256.3L972.4 1256.4L978.1 1257.1L983.5 1258.7L988.6 1261.3L993.6 1264.8L998.5 1268.4L1003.4 1271.9L1008.3 1275.3L1013.4 1278.6L1018.6 1281.6L1023.9 1284.4L1029.3 1286.9L1034.9 1289.1L1040.5 1291.2L1046.3 1293.0L1052.1 1294.5L1058.0 1295.7L1063.9 1296.4L1069.9 1296.8L1075.9 1296.9L1081.9 1296.9L1087.9 1296.9L1093.9 1296.8L1099.8 1296.4L1105.7 1295.7L1111.5 1294.8L1117.4 1294.3L1123.4 1294.1L1129.4 1294.0L1135.4 1294.0L1141.5 1294.0L1147.5 1294.0L1153.6 1294.0L1159.5 1294.2L1165.4 1294.8L1171.2 1295.8L1177.1 1297.0L1183.0 1298.0L1188.9 1298.7L1194.9 1299.1L1200.9 1299.2L1206.9 1299.2L1212.9 1299.1L1218.9 1298.7L1224.7 1297.8L1230.5 1296.4L1236.3 1294.6L1242.0 1292.6L1247.6 1290.4L1253.1 1288.1L1258.4 1285.4L1263.6 1282.5L1268.6 1279.2L1273.5 1275.7L1278.3 1272.0L1283.1 1268.4L1287.9 1264.7L1292.6 1261.0L1297.3 1257.3L1302.0 1253.5L1306.6 1249.7L1311.2 1245.8L1315.8 1241.9L1320.3 1237.9L1324.8 1233.9L1329.2 1229.9L1333.6 1225.8L1337.9 1221.6L1342.1 1217.3L1346.3 1213.0L1350.4 1208.6L1354.5 1204.2L1358.4 1199.6L1362.2 1195.0L1365.9 1190.3L1369.4 1185.4L1372.9 1180.5L1376.2 1175.5L1379.5 1170.5L1382.6 1165.3L1385.6 1160.2L1388.5 1154.9L1391.3 1149.6L1394.0 1144.2L1396.6 1138.8L1399.2 1133.4L1401.9 1128.0L1404.6 1122.6L1407.3 1117.3L1410.2 1112.0L1413.0 1106.7L1415.9 1101.5L1418.9 1096.2L1421.8 1091.0L1424.6 1085.7L1427.5 1080.4L1430.4 1075.2L1433.3 1069.9L1436.2 1064.6L1439.1 1059.4L1442.0 1054.1L1444.9 1048.9L1447.9 1043.7L1450.9 1038.4L1453.8 1033.2L1456.8 1028.0L1459.8 1022.8L1462.8 1017.6L1465.8 1012.4L1468.9 1007.2L1471.9 1002.0L1474.9 996.9L1478.0 991.7L1481.0 986.5L1484.1 981.3L1487.1 976.1L1490.1 971.0L1493.1 965.8L1496.1 960.5L1499.0 955.3L1502.0 950.0L1504.8 944.8L1507.6 939.5L1510.3 934.1L1513.0 928.7L1515.6 923.3L1518.1 917.8L1520.6 912.4L1523.0 906.9L1525.4 901.4L1527.9 895.9L1530.3 890.4L1532.6 884.9L1534.9 879.3L1537.2 873.8L1539.4 868.2L1541.6 862.6L1543.6 856.9L1545.7 851.3L1547.8 845.7L1550.0 840.1L1552.2 834.5L1554.6 829.0L1557.0 823.5L1559.5 818.1L1562.1 812.6L1564.5 807.1L1566.8 801.6L1569.0 796.0L1571.1 790.3L1573.1 784.7L1575.3 779.1L1577.7 773.6L1580.3 768.3L1583.1 762.9L1586.1 757.7L1589.1 752.5L1592.2 747.3L1595.4 742.1L1598.7 737.1L1602.3 732.4L1606.3 728.0L1610.8 724.1L1615.6 720.5L1620.8 717.5L1626.2 714.9L1631.8 713.2L1637.5 712.2L1643.4 711.8L1649.4 711.7L1655.5 711.6L1661.5 711.4L1667.5 710.9L1673.4 710.1L1679.3 708.7L1685.0 706.9L1690.5 704.7L1695.8 702.0L1701.1 699.2L1706.4 696.2L1711.7 693.3L1717.1 690.6L1722.6 688.4L1728.3 686.8L1734.1 686.0L1739.9 686.3L1745.4 687.9L1750.4 690.6L1754.7 694.5L1758.4 699.1L1761.6 704.2L1764.5 709.5L1767.2 714.9L1769.6 720.4L1771.9 725.9L1774.1 731.5L1776.1 737.2L1778.0 742.9L1779.9 748.6L1781.6 754.4L1783.2 760.2L1784.7 766.0L1786.2 771.8L1787.6 777.6L1789.0 783.5L1790.4 789.3L1791.8 795.2L1793.1 801.0L1794.4 806.9L1795.7 812.7L1797.0 818.6L1798.3 824.5L1799.5 830.3L1800.8 836.2L1802.1 842.1L1803.3 848.0L1804.5 853.8L1805.7 859.7L1806.9 865.6L1808.0 871.5L1809.1 877.4L1810.1 883.3L1811.2 889.3L1812.3 895.2L1813.3 901.1L1814.3 907.0L1815.4 912.9L1816.4 918.8L1817.4 924.7L1818.5 930.7L1819.5 936.6L1820.5 942.5L1821.5 948.4L1822.5 954.3L1823.5 960.3L1824.6 966.2L1825.6 972.1L1826.6 978.0L1827.6 983.9L1828.6 989.9L1829.6 995.8L1830.6 1001.7L1831.6 1007.6L1832.6 1013.5L1833.6 1019.5L1834.5 1025.4L1835.5 1031.3L1836.4 1037.2L1837.4 1043.2L1838.4 1049.1L1839.3 1055.0L1840.2 1061.0L1841.2 1066.9L1842.1 1072.8L1843.1 1078.8L1844.0 1084.7L1845.0 1090.6L1845.9 1096.5L1846.9 1102.5L1848.0 1108.4L1849.0 1114.3L1850.0 1120.2L1851.1 1126.1L1852.2 1132.0L1853.3 1137.9L1854.4 1143.8L1855.5 1149.7L1856.6 1155.6L1857.7 1161.5L1858.9 1167.4L1860.0 1173.3L1861.2 1179.2L1862.4 1185.1L1863.6 1191.0L1864.9 1196.9L1866.1 1202.7L1867.3 1208.6L1868.6 1214.5L1869.9 1220.3L1871.2 1226.2L1872.5 1232.1L1873.9 1237.9L1875.3 1243.8L1876.7 1249.6L1878.1 1255.4L1879.6 1261.3L1881.1 1267.1L1882.4 1272.9L1883.7 1278.8L1884.8 1284.7L1885.9 1290.6L1886.9 1296.5L1887.9 1302.4L1889.0 1308.3L1890.2 1314.2L1891.5 1320.1L1892.9 1325.9L1894.4 1331.7L1896.0 1337.5L1897.7 1343.3L1899.5 1349.0L1901.4 1354.7L1903.4 1360.4L1905.4 1366.0L1907.5 1371.7L1909.6 1377.3L1911.8 1382.9L1914.1 1388.4L1916.5 1394.0L1918.9 1399.4L1921.5 1404.9L1924.1 1410.3L1926.9 1415.6L1929.8 1420.9L1932.8 1426.1L1936.0 1431.1L1939.5 1436.0L1943.1 1440.8L1947.0 1445.3L1951.1 1449.7L1955.4 1453.9L1959.8 1458.0L1964.4 1461.9L1969.2 1465.5L1974.1 1468.9L1979.3 1471.9L1984.6 1474.6L1990.1 1477.0L1995.7 1479.3L2001.3 1481.4L2007.0 1483.4L2012.7 1485.3L2018.4 1487.1L2024.2 1488.7L2030.0 1490.1L2035.9 1491.2L2041.8 1492.0L2047.8 1492.7L2053.8 1493.2L2059.8 1493.6L2065.7 1494.0L2071.7 1494.3L2077.7 1494.6L2083.7 1494.8L2089.7 1495.1L2095.7 1495.3L2101.8 1495.4L2107.8 1495.6L2113.8 1495.7L2119.8 1495.8L2125.8 1495.9L2131.8 1496.0L2137.8 1496.1L2143.8 1496.1L2149.8 1496.2L2155.8 1496.2L2161.8 1496.2L2167.8 1496.3L2173.8 1496.3L2179.8 1496.3L2185.8 1496.3L2191.8 1496.4L2197.8 1496.4L2203.9 1496.4L2209.9 1496.4L2215.9 1496.4L2221.9 1496.5L2227.9 1496.5L2233.9 1496.5L2239.9 1496.5L2245.9 1496.5L2251.9 1496.5L2257.9 1496.5L2263.9 1496.6L2269.9 1496.6L2275.9 1496.6L2281.9 1496.6L2287.9 1496.6L2293.9 1496.6L2299.9 1496.7L2305.9 1496.7L2311.9 1496.7L2318.0 1496.7L2324.0 1496.8L2330.0 1496.8L2336.0 1496.8L2342.0 1496.9L2348.0 1496.9L2354.0 1496.9L2360.0 1496.9L2366.0 1497.0L2370.0 1497.0"/>
<path id="c-pink" stroke="#ff0080" d="M317.5 66.0L317.9 72.0L318.2 78.0L318.6 84.0L318.9 90.0L319.3 96.0L319.6 102.0L320.0 108.0L320.3 114.0L320.7 120.0L321.0 126.0L321.4 132.0L321.7 138.0L322.1 144.0L322.5 150.0L322.8 156.0L323.2 162.0L323.5 168.0L323.9 174.0L324.2 180.0L324.6 186.0L324.9 192.0L325.3 198.1L325.7 204.1L326.0 210.1L326.4 216.1L326.7 222.1L327.1 228.1L327.4 234.1L327.8 240.1L328.2 246.1L328.5 252.1L328.9 258.1L329.2 264.1L329.6 270.1L330.0 276.1L330.3 282.1L330.7 288.1L331.0 294.1L331.4 300.1L331.8 306.1L332.1 312.1L332.5 318.1L332.9 324.1L333.2 330.1L333.6 336.1L333.9 342.1L334.3 348.1L334.7 354.1L335.0 360.1L335.4 366.1L335.8 372.1L336.1 378.1L336.5 384.1L336.8 390.1L337.2 396.1L337.6 402.1L337.9 408.1L338.3 414.1L338.7 420.1L339.0 426.1L339.4 432.1L339.8 438.1L340.1 444.1L340.5 450.1L340.9 456.1L341.2 462.1L341.6 468.1L342.0 474.1L342.4 480.1L342.7 486.1L343.1 492.1L343.5 498.1L343.8 504.1L344.2 510.1L344.6 516.1L345.0 522.1L345.3 528.2L345.7 534.2L346.1 540.2L346.5 546.2L346.8 552.2L347.2 558.2L347.6 564.2L347.9 570.2L348.3 576.2L348.7 582.2L349.1 588.2L349.4 594.2L349.8 600.2L350.2 606.2L350.5 612.2L350.9 618.2L351.3 624.2L351.6 630.2L352.0 636.2L352.4 642.2L352.7 648.2L353.1 654.2L353.5 660.2L353.9 666.2L354.2 672.2L354.6 678.2L355.0 684.2L355.4 690.2L355.8 696.2L356.1 702.2L356.5 708.2L356.9 714.2L357.3 720.2L357.7 726.2L358.2 732.2L358.6 738.2L359.0 744.2L359.4 750.2L359.8 756.2L360.2 762.2L360.7 768.2L361.1 774.2L361.5 780.2L362.0 786.2L362.4 792.2L362.9 798.2L363.3 804.2L363.8 810.1L364.2 816.1L364.7 822.1L365.1 828.1L365.6 834.1L366.1 840.1L366.5 846.1L367.0 852.1L367.5 858.1L368.0 864.1L368.5 870.1L369.0 876.1L369.5 882.1L370.1 888.1L370.6 894.0L371.2 900.0L371.8 906.0L372.4 912.0L373.1 918.0L373.7 923.9L374.4 929.9L375.1 935.9L375.8 941.9L376.5 947.8L377.2 953.8L378.0 959.8L378.7 965.7L379.5 971.7L380.2 977.7L381.0 983.6L381.7 989.6L382.4 995.6L383.2 1001.5L383.9 1007.5L384.6 1013.5L385.3 1019.5L386.1 1025.4L386.8 1031.4L387.7 1037.4L388.5 1043.3L389.4 1049.2L390.5 1055.2L391.5 1061.1L392.7 1067.0L393.9 1072.9L395.1 1078.7L396.4 1084.6L397.6 1090.5L398.8 1096.4L399.9 1102.3L401.1 1108.2L402.2 1114.2L403.3 1120.1L404.4 1126.0L405.6 1131.9L406.8 1137.8L408.0 1143.7L409.3 1149.5L410.7 1155.4L412.1 1161.2L413.7 1167.0L415.3 1172.8L416.9 1178.6L418.7 1184.4L420.5 1190.1L422.5 1195.8L424.5 1201.4L426.7 1207.0L429.1 1212.5L431.5 1218.0L434.2 1223.5L436.9 1228.9L439.8 1234.2L442.8 1239.4L445.9 1244.5L449.2 1249.5L452.6 1254.4L456.2 1259.2L459.9 1263.9L463.8 1268.6L467.7 1273.2L471.7 1277.8L475.7 1282.4L479.7 1287.0L483.9 1291.5L488.2 1295.7L492.7 1299.4L497.6 1302.7L502.8 1305.6L508.3 1308.0L514.0 1309.9L519.9 1311.1L525.9 1311.7L531.8 1311.9L537.8 1311.7L543.8 1311.2L549.7 1310.2L555.5 1308.7L561.3 1307.0L567.0 1305.0L572.7 1303.0L578.2 1300.7L583.7 1298.2L589.1 1295.6L594.5 1292.9L599.9 1290.1L605.1 1287.2L610.4 1284.2L615.6 1281.2L620.7 1278.1L625.8 1274.9L631.0 1271.8L636.1 1268.7L641.3 1265.6L646.5 1262.5L651.7 1259.5L657.0 1256.5L662.3 1253.7L667.7 1251.0L673.2 1248.6L678.7 1246.3L684.4 1244.2L690.2 1242.6L696.0 1241.4L702.0 1240.9L707.9 1240.7L713.9 1240.7L719.9 1240.8L725.9 1241.2L731.9 1242.0L737.7 1243.3L743.6 1244.8L749.3 1246.5L755.0 1248.5L760.6 1250.8L766.1 1253.2L771.6 1255.6L777.2 1257.5L782.9 1258.5L788.7 1258.4L794.3 1257.2L799.7 1255.1L799.7 1255.1L803.1 1264.1L808.6 1266.6L814.0 1269.1L819.5 1271.6L825.0 1274.1L830.4 1276.6L835.9 1279.1L841.4 1281.6L846.8 1284.2L852.2 1286.9L857.5 1289.6L862.8 1292.4L868.1 1295.3L873.4 1298.2L878.7 1301.0L884.0 1303.8L889.4 1306.5L894.8 1309.1L900.3 1311.5L905.8 1313.9L911.3 1316.3L916.9 1318.6L922.5 1320.9L928.1 1323.0L933.8 1324.9L939.5 1326.8L945.3 1328.5L951.0 1330.1L956.9 1331.6L962.7 1333.1L968.5 1334.6L974.3 1336.2L980.1 1337.9L985.8 1339.8L991.4 1341.8L997.1 1343.9L1002.7 1346.0L1008.3 1348.3L1013.9 1350.5L1019.5 1352.7L1025.1 1354.8L1030.7 1356.8L1036.4 1358.8L1042.1 1360.6L1047.9 1362.3L1053.7 1363.9L1059.5 1365.3L1065.4 1366.6L1071.3 1367.7L1077.2 1368.6L1083.2 1369.6L1089.1 1370.6L1095.0 1371.7L1100.9 1372.8L1106.8 1373.9L1112.8 1374.8L1118.7 1375.6L1124.7 1376.3L1130.7 1376.8L1136.7 1377.4L1142.7 1378.0L1148.6 1378.6L1154.6 1379.4L1160.5 1380.4L1166.4 1381.4L1172.3 1382.4L1178.3 1383.1L1184.3 1383.5L1190.3 1383.8L1196.3 1383.9L1202.3 1383.9L1208.3 1383.9L1214.3 1383.9L1220.4 1383.9L1226.4 1383.9L1232.4 1383.8L1238.4 1383.6L1244.3 1383.1L1250.3 1382.4L1256.3 1381.5L1262.2 1380.4L1268.0 1379.1L1273.8 1377.6L1279.6 1376.0L1285.4 1374.3L1291.2 1372.7L1297.1 1371.3L1302.9 1369.9L1308.8 1368.7L1314.7 1367.5L1320.6 1366.4L1326.5 1365.3L1332.4 1364.1L1338.3 1362.8L1344.2 1361.5L1350.0 1360.1L1355.8 1358.6L1361.6 1356.9L1367.3 1355.1L1372.9 1353.0L1378.5 1350.8L1384.1 1348.5L1389.7 1346.3L1395.3 1344.1L1400.9 1342.0L1406.5 1339.7L1411.9 1337.2L1417.3 1334.5L1422.6 1331.6L1427.9 1328.9L1433.3 1326.6L1439.0 1324.7L1444.8 1323.2L1450.6 1321.8L1456.5 1320.5L1462.4 1319.3L1468.3 1318.1L1474.2 1316.9L1480.1 1315.7L1486.0 1314.4L1491.9 1313.1L1497.7 1311.6L1503.5 1310.1L1509.3 1308.6L1515.1 1307.0L1520.9 1305.3L1526.7 1303.6L1532.4 1301.8L1538.2 1300.0L1543.9 1298.1L1549.7 1296.4L1555.5 1294.9L1561.4 1294.0L1567.4 1293.6L1573.4 1293.4L1579.4 1293.4L1585.4 1293.5L1591.3 1293.9L1597.1 1294.9L1602.7 1296.6L1608.3 1298.9L1613.8 1301.4L1619.3 1303.9L1624.8 1306.4L1630.3 1308.8L1635.7 1311.3L1641.2 1313.8L1646.7 1316.3L1652.2 1318.7L1657.8 1320.9L1663.4 1323.0L1669.1 1324.9L1674.9 1326.6L1680.6 1328.3L1686.5 1329.8L1692.3 1331.2L1698.2 1332.2L1704.1 1332.9L1710.1 1333.2L1716.1 1333.3L1722.1 1333.3L1728.2 1333.4L1734.2 1333.4L1740.2 1333.5L1746.2 1333.7L1752.2 1334.2L1758.1 1335.1L1763.9 1336.5L1769.4 1338.5L1774.7 1341.2L1779.9 1344.3L1785.0 1347.6L1790.0 1350.9L1794.9 1354.4L1799.6 1358.1L1804.1 1362.1L1808.3 1366.4L1812.1 1371.0L1815.7 1375.7L1819.2 1380.7L1822.6 1385.6L1826.3 1390.4L1830.0 1395.1L1833.8 1399.7L1837.5 1404.4L1841.1 1409.3L1844.7 1414.1L1848.2 1419.0L1851.8 1423.8L1855.5 1428.5L1859.4 1433.1L1863.3 1437.6L1867.4 1442.0L1871.6 1446.3L1876.0 1450.5L1880.4 1454.5L1885.1 1458.3L1889.8 1462.0L1894.7 1465.6L1899.6 1469.0L1904.6 1472.3L1909.7 1475.5L1914.9 1478.6L1920.1 1481.6L1925.4 1484.3L1930.9 1486.8L1936.4 1489.2L1942.0 1491.3L1947.8 1493.2L1953.5 1494.8L1959.4 1496.1L1965.3 1497.0L1971.3 1497.7L1977.3 1498.1L1983.3 1498.4L1989.3 1498.5L1995.3 1498.6L2001.3 1498.6L2007.3 1498.6L2013.3 1498.6L2019.3 1498.6L2025.3 1498.6L2031.4 1498.6L2037.4 1498.6L2043.4 1498.6L2049.4 1498.6L2055.4 1498.6L2061.4 1498.6L2067.4 1498.6L2073.4 1498.6L2079.4 1498.6L2085.5 1498.6L2091.5 1498.6L2097.5 1498.6L2103.5 1498.6L2109.5 1498.6L2115.5 1498.6L2121.5 1498.6L2127.5 1498.6L2133.5 1498.6L2139.6 1498.6L2145.6 1498.6L2151.6 1498.6L2157.6 1498.6L2163.6 1498.6L2169.6 1498.6L2175.6 1498.6L2181.6 1498.6L2187.6 1498.6L2193.7 1498.6L2199.7 1498.6L2205.7 1498.6L2211.7 1498.6L2217.7 1498.6L2223.7 1498.6L2229.7 1498.6L2235.7 1498.6L2241.8 1498.6L2247.8 1498.6L2253.8 1498.6L2259.8 1498.6L2265.8 1498.6L2271.8 1498.6L2277.8 1498.6L2283.8 1498.6L2289.8 1498.6L2295.9 1498.6L2301.9 1498.6L2307.9 1498.6L2313.9 1498.6L2319.9 1498.6L2325.9 1498.6L2331.9 1498.6L2337.9 1498.6L2343.9 1498.6L2350.0 1498.6L2356.0 1498.6L2362.0 1498.6L2368.0 1498.6L2370.0 1498.6"/>
<path id="c-darkred" stroke="#960000" d="M323.7 66.0L324.1 72.0L324.4 78.0L324.8 84.0L325.2 90.0L325.5 96.0L325.9 102.0L326.3 108.0L326.6 114.0L327.0 120.0L327.4 126.0L327.7 132.0L328.1 138.0L328.5 144.0L328.8 150.0L329.2 156.0L329.5 162.1L329.9 168.1L330.3 174.1L330.6 180.1L331.0 186.1L331.4 192.1L331.7 198.1L332.1 204.1L332.5 210.1L332.8 216.1L333.2 222.1L333.6 228.1L333.9 234.1L334.3 240.1L334.7 246.1L335.0 252.1L335.4 258.1L335.7 264.1L336.1 270.1L336.5 276.1L336.8 282.1L337.2 288.1L337.6 294.1L337.9 300.1L338.3 306.1L338.6 312.1L339.0 318.1L339.4 324.1L339.7 330.2L340.1 336.2L340.4 342.2L340.8 348.2L341.2 354.2L341.5 360.2L341.9 366.2L342.3 372.2L342.6 378.2L343.0 384.2L343.3 390.2L343.7 396.2L344.1 402.2L344.4 408.2L344.8 414.2L345.2 420.2L345.5 426.2L345.9 432.2L346.3 438.2L346.6 444.2L347.0 450.2L347.4 456.2L347.8 462.2L348.1 468.2L348.5 474.2L348.9 480.2L349.3 486.2L349.6 492.2L350.0 498.2L350.4 504.2L350.8 510.2L351.2 516.2L351.5 522.3L351.9 528.3L352.3 534.3L352.7 540.3L353.1 546.3L353.4 552.3L353.8 558.3L354.2 564.3L354.6 570.3L355.0 576.3L355.4 582.3L355.7 588.3L356.1 594.3L356.5 600.3L356.9 606.3L357.3 612.3L357.7 618.3L358.1 624.3L358.4 630.3L358.8 636.3L359.2 642.3L359.6 648.3L360.0 654.3L360.4 660.3L360.8 666.3L361.2 672.3L361.6 678.3L362.0 684.3L362.4 690.3L362.8 696.3L363.2 702.3L363.5 708.3L363.9 714.3L364.3 720.3L364.7 726.3L365.1 732.3L365.5 738.3L365.9 744.3L366.3 750.3L366.7 756.3L367.1 762.3L367.5 768.3L367.9 774.3L368.4 780.3L368.9 786.3L369.4 792.3L369.9 798.3L370.4 804.3L371.0 810.3L371.6 816.3L372.2 822.2L372.9 828.2L373.5 834.2L374.2 840.2L374.9 846.1L375.7 852.1L376.4 858.1L377.2 864.1L378.0 870.0L378.8 876.0L379.5 882.0L380.4 887.9L381.2 893.9L382.0 899.8L382.8 905.8L383.7 911.7L384.5 917.7L385.4 923.6L386.3 929.6L387.2 935.5L388.1 941.5L389.0 947.4L389.9 953.4L390.9 959.3L391.9 965.3L392.9 971.2L393.9 977.1L394.9 983.0L396.0 989.0L397.1 994.9L398.2 1000.8L399.3 1006.7L400.5 1012.6L401.8 1018.5L403.0 1024.3L404.3 1030.2L405.6 1036.1L406.9 1042.0L408.2 1047.8L409.5 1053.7L410.8 1059.6L412.0 1065.5L413.3 1071.4L414.6 1077.2L416.0 1083.1L417.4 1088.9L418.8 1094.8L420.4 1100.6L422.0 1106.4L423.6 1112.2L425.3 1118.0L427.1 1123.7L429.0 1129.4L431.0 1135.1L433.1 1140.7L435.3 1146.3L437.7 1151.8L440.2 1157.3L442.8 1162.7L445.5 1168.1L448.3 1173.4L451.1 1178.8L454.0 1184.1L456.9 1189.3L459.9 1194.5L463.0 1199.7L466.2 1204.8L469.5 1209.8L472.9 1214.7L476.5 1219.6L480.2 1224.3L484.0 1229.0L487.9 1233.5L491.9 1238.1L495.9 1242.6L500.0 1247.1L504.1 1251.5L508.3 1255.9L512.6 1260.1L517.1 1264.1L521.8 1267.9L526.7 1271.5L531.9 1274.8L537.3 1277.3L542.9 1278.9L548.7 1279.6L554.6 1279.8L560.6 1279.8L566.7 1279.5L572.7 1278.7L578.6 1277.2L584.1 1275.0L589.2 1272.2L593.7 1268.7L597.7 1264.4L601.2 1259.5L604.5 1254.3L607.6 1249.0L610.5 1243.7L613.2 1238.3L615.9 1232.9L618.5 1227.5L621.2 1222.1L624.0 1216.7L626.8 1211.4L629.8 1206.2L632.8 1201.0L635.9 1195.8L639.1 1190.7L642.2 1185.6L645.5 1180.5L648.8 1175.5L652.2 1170.6L655.8 1165.8L659.6 1161.0L663.5 1156.5L667.5 1152.0L671.8 1147.7L676.3 1143.5L681.0 1139.8L686.0 1136.8L691.4 1134.7L697.1 1133.6L703.0 1133.5L708.8 1134.5L714.2 1136.5L719.2 1139.5L723.7 1143.2L727.7 1147.6L731.6 1152.4L735.3 1157.2L738.9 1162.1L742.5 1166.9L746.0 1171.8L749.3 1176.8L752.6 1181.9L755.8 1186.9L759.2 1191.9L762.8 1196.7L766.6 1201.3L770.5 1205.9L774.5 1210.4L778.4 1215.0L782.1 1219.8L785.7 1224.6L789.1 1228.7L792.9 1230.8L797.1 1230.6L798.6 1230.2L803.1 1241.5L808.0 1245.0L813.0 1248.4L818.0 1251.7L823.1 1254.9L828.2 1258.0L833.3 1261.1L838.4 1264.3L843.5 1267.6L848.5 1270.9L853.5 1274.2L858.7 1277.3L864.0 1279.8L869.5 1282.0L875.2 1283.9L881.0 1285.7L886.8 1287.4L892.6 1288.8L898.5 1289.6L904.5 1290.0L910.5 1290.1L916.6 1290.0L922.5 1289.7L928.3 1289.1L934.0 1288.1L939.8 1287.3L945.7 1286.9L951.7 1286.9L957.7 1287.1L963.6 1287.8L969.3 1288.9L975.1 1290.3L980.8 1291.6L986.5 1293.2L991.9 1295.5L997.2 1298.3L1002.4 1301.3L1007.6 1304.3L1012.9 1307.3L1018.1 1310.2L1023.5 1312.9L1028.9 1315.4L1034.5 1317.5L1040.2 1319.2L1046.0 1320.7L1051.9 1322.1L1057.8 1323.4L1063.7 1324.4L1069.6 1325.2L1075.6 1325.7L1081.6 1326.0L1087.6 1326.2L1093.6 1326.4L1099.6 1326.5L1105.6 1326.5L1111.6 1326.6L1117.6 1326.7L1123.6 1326.9L1129.6 1327.0L1135.6 1327.3L1141.6 1327.6L1147.6 1328.0L1153.6 1328.5L1159.5 1329.3L1165.5 1330.2L1171.4 1331.2L1177.3 1332.1L1183.3 1332.6L1189.3 1332.9L1195.3 1333.1L1201.3 1333.1L1207.3 1333.1L1213.3 1333.1L1219.3 1333.0L1225.3 1332.7L1231.2 1332.2L1237.1 1331.1L1243.0 1329.7L1248.8 1328.1L1254.5 1326.2L1260.2 1324.2L1265.7 1322.0L1271.2 1319.5L1276.7 1316.9L1282.1 1314.2L1287.4 1311.5L1292.7 1308.7L1298.0 1305.8L1303.2 1302.9L1308.5 1299.9L1313.7 1296.9L1318.9 1293.9L1324.1 1290.8L1329.2 1287.7L1334.3 1284.5L1339.3 1281.2L1344.2 1277.8L1349.1 1274.3L1353.9 1270.6L1358.6 1266.9L1363.2 1263.1L1367.7 1259.1L1372.1 1255.1L1376.5 1250.9L1380.7 1246.6L1384.8 1242.2L1388.9 1237.8L1392.8 1233.3L1396.6 1228.6L1400.3 1223.9L1403.9 1219.1L1407.5 1214.3L1411.1 1209.5L1414.8 1204.7L1418.5 1200.0L1422.2 1195.3L1426.0 1190.6L1429.9 1186.0L1433.7 1181.4L1437.6 1176.8L1441.5 1172.2L1445.4 1167.7L1449.4 1163.2L1453.5 1158.8L1457.5 1154.4L1461.6 1149.9L1465.6 1145.5L1469.6 1141.0L1473.6 1136.5L1477.4 1131.9L1481.3 1127.3L1485.1 1122.6L1488.9 1118.0L1492.8 1113.4L1496.6 1108.8L1500.5 1104.2L1504.5 1099.7L1508.4 1095.1L1512.4 1090.6L1516.4 1086.1L1520.3 1081.6L1524.1 1077.0L1527.9 1072.3L1531.6 1067.5L1535.1 1062.7L1538.7 1057.9L1542.2 1053.0L1545.7 1048.1L1549.3 1043.3L1553.0 1038.5L1556.6 1033.8L1560.4 1029.1L1564.1 1024.4L1567.9 1019.7L1571.8 1015.1L1575.8 1010.7L1580.2 1006.6L1584.8 1002.8L1589.6 999.3L1594.7 996.1L1599.9 993.1L1605.4 990.6L1611.0 988.5L1616.7 987.1L1622.6 986.3L1628.6 986.1L1634.5 986.4L1640.3 987.4L1646.0 988.8L1651.8 990.4L1657.6 991.7L1663.6 992.4L1669.5 992.8L1675.6 992.9L1681.6 992.9L1687.5 992.7L1693.5 992.2L1699.4 991.2L1705.2 989.9L1711.0 988.3L1716.9 986.8L1722.7 985.6L1728.7 984.8L1734.7 984.5L1740.6 984.8L1746.3 985.8L1751.5 987.9L1756.4 991.0L1761.0 994.8L1765.4 998.8L1769.6 1003.0L1773.2 1007.7L1776.3 1012.7L1779.2 1018.0L1781.9 1023.5L1784.5 1028.9L1787.0 1034.4L1789.5 1039.9L1792.0 1045.3L1794.4 1050.8L1796.6 1056.4L1798.7 1062.0L1800.6 1067.7L1802.5 1073.4L1804.4 1079.1L1806.2 1084.8L1808.0 1090.6L1809.7 1096.3L1811.4 1102.1L1812.9 1107.9L1814.4 1113.7L1815.8 1119.6L1817.1 1125.4L1818.5 1131.3L1819.8 1137.1L1821.2 1143.0L1822.6 1148.8L1824.1 1154.6L1825.6 1160.5L1827.1 1166.3L1828.6 1172.1L1830.1 1177.9L1831.6 1183.7L1833.2 1189.5L1834.7 1195.3L1836.3 1201.1L1837.9 1206.9L1839.5 1212.7L1841.1 1218.5L1842.7 1224.3L1844.3 1230.1L1845.9 1235.9L1847.4 1241.7L1848.9 1247.5L1850.4 1253.3L1851.8 1259.1L1853.3 1265.0L1854.7 1270.8L1856.2 1276.6L1857.8 1282.4L1859.4 1288.2L1861.1 1294.0L1862.8 1299.7L1864.5 1305.5L1866.4 1311.2L1868.3 1316.8L1870.3 1322.5L1872.4 1328.2L1874.4 1333.8L1876.5 1339.5L1878.6 1345.1L1880.7 1350.7L1882.9 1356.3L1885.1 1361.9L1887.4 1367.4L1889.8 1373.0L1892.1 1378.5L1894.5 1384.0L1896.8 1389.5L1899.1 1395.1L1901.4 1400.6L1903.9 1406.1L1906.4 1411.6L1909.0 1417.0L1911.8 1422.3L1914.7 1427.5L1917.8 1432.7L1920.9 1437.8L1924.3 1442.8L1927.8 1447.7L1931.5 1452.4L1935.4 1456.9L1939.5 1461.3L1943.7 1465.6L1948.1 1469.8L1952.6 1473.6L1957.5 1477.2L1962.5 1480.3L1967.8 1483.1L1973.3 1485.6L1978.8 1487.9L1984.5 1489.9L1990.2 1491.6L1996.0 1493.1L2001.9 1494.4L2007.8 1495.6L2013.7 1496.6L2019.7 1497.3L2025.6 1497.8L2031.6 1498.2L2037.6 1498.5L2043.6 1498.7L2049.6 1498.8L2055.7 1498.9L2061.7 1498.9L2067.7 1498.9L2073.7 1498.9L2079.7 1498.9L2085.7 1498.9L2091.7 1498.9L2097.7 1498.9L2103.7 1498.9L2109.7 1498.9L2115.7 1498.9L2121.7 1498.9L2127.7 1498.9L2133.7 1498.9L2139.7 1498.9L2145.7 1498.9L2151.7 1498.9L2157.7 1498.9L2163.7 1498.9L2169.8 1498.9L2175.8 1498.9L2181.8 1498.9L2187.8 1498.9L2193.8 1498.9L2199.8 1498.9L2205.8 1498.9L2211.8 1498.9L2217.8 1498.9L2223.8 1498.9L2229.8 1498.9L2235.8 1498.9L2241.8 1498.9L2247.8 1498.9L2253.8 1498.9L2259.8 1498.9L2265.9 1498.9L2271.9 1498.9L2277.9 1498.9L2283.9 1498.9L2289.9 1498.9L2295.9 1498.9L2301.9 1498.9L2307.9 1498.9L2313.9 1498.9L2319.9 1498.9L2325.9 1498.9L2331.9 1498.9L2337.9 1498.9L2344.0 1498.9L2350.0 1498.9L2356.0 1498.9L2362.0 1498.9L2368.0 1498.9L2370.0 1498.9"/>
<path id="c-purple" stroke="#9900ff" d="M323.5 66.0L323.9 72.0L324.3 78.0L324.6 84.0L325.0 90.0L325.4 96.0L325.8 102.0L326.2 108.0L326.6 114.0L326.9 120.0L327.3 126.0L327.7 132.0L328.1 138.0L328.5 144.0L328.9 150.0L329.3 155.9L329.6 161.9L330.0 167.9L330.4 173.9L330.8 179.9L331.2 185.9L331.6 191.9L332.0 197.9L332.3 203.9L332.7 209.9L333.1 215.9L333.5 221.9L333.9 227.9L334.3 233.9L334.7 239.9L335.1 245.9L335.5 251.9L335.9 257.9L336.3 263.9L336.6 269.9L337.0 275.9L337.4 281.9L337.8 287.9L338.2 293.9L338.6 299.9L339.0 305.9L339.4 311.9L339.8 317.8L340.2 323.8L340.6 329.8L341.0 335.8L341.4 341.8L341.7 347.8L342.1 353.8L342.5 359.8L342.9 365.8L343.3 371.8L343.7 377.8L344.1 383.8L344.5 389.8L344.9 395.8L345.3 401.8L345.7 407.8L346.1 413.8L346.5 419.8L346.9 425.8L347.4 431.8L347.8 437.8L348.2 443.8L348.6 449.7L349.0 455.7L349.4 461.7L349.8 467.7L350.2 473.7L350.6 479.7L351.0 485.7L351.4 491.7L351.8 497.7L352.2 503.7L352.6 509.7L353.0 515.7L353.5 521.7L353.9 527.7L354.3 533.7L354.7 539.7L355.1 545.7L355.6 551.7L356.0 557.7L356.5 563.7L356.9 569.6L357.4 575.6L357.8 581.6L358.3 587.6L358.8 593.6L359.3 599.6L359.8 605.6L360.3 611.6L360.8 617.5L361.3 623.5L361.9 629.5L362.4 635.5L363.0 641.5L363.6 647.5L364.2 653.4L364.8 659.4L365.4 665.4L366.0 671.4L366.6 677.4L367.2 683.3L367.9 689.3L368.5 695.3L369.1 701.3L369.8 707.2L370.5 713.2L371.2 719.2L371.9 725.1L372.6 731.1L373.3 737.1L374.1 743.0L374.8 749.0L375.6 755.0L376.3 760.9L377.1 766.9L377.9 772.8L378.7 778.8L379.5 784.8L380.3 790.7L381.1 796.7L381.9 802.6L382.7 808.6L383.5 814.5L384.3 820.5L385.1 826.4L386.0 832.4L386.8 838.3L387.7 844.3L388.6 850.2L389.4 856.2L390.3 862.1L391.2 868.1L392.1 874.0L393.0 879.9L394.0 885.9L394.9 891.8L395.8 897.7L396.8 903.7L397.8 909.6L398.7 915.5L399.7 921.5L400.7 927.4L401.7 933.3L402.7 939.2L403.7 945.2L404.8 951.1L405.8 957.0L406.9 962.9L408.0 968.8L409.1 974.7L410.2 980.6L411.3 986.5L412.5 992.4L413.7 998.3L414.9 1004.2L416.1 1010.1L417.3 1016.0L418.6 1021.9L419.9 1027.7L421.3 1033.6L422.7 1039.4L424.2 1045.2L425.8 1051.0L427.5 1056.8L429.3 1062.5L431.2 1068.3L433.2 1073.9L435.3 1079.5L437.6 1085.0L440.2 1090.4L442.9 1095.8L445.7 1101.1L448.7 1106.3L451.6 1111.6L454.5 1116.9L457.3 1122.2L460.0 1127.6L462.6 1133.0L465.2 1138.4L467.9 1143.8L470.5 1149.2L473.3 1154.6L476.1 1159.8L479.1 1165.1L482.1 1170.3L485.2 1175.4L488.5 1180.5L491.8 1185.5L495.2 1190.4L498.8 1195.3L502.5 1200.1L506.3 1204.8L510.3 1209.3L514.5 1213.7L518.9 1217.7L523.6 1221.6L528.6 1225.2L533.8 1228.5L539.2 1231.2L544.7 1232.9L550.2 1233.3L555.8 1232.5L561.5 1230.6L567.0 1228.1L572.4 1225.1L577.5 1221.9L582.5 1218.4L587.3 1214.5L591.6 1210.3L595.6 1205.9L598.9 1201.3L601.9 1196.4L604.4 1191.2L606.7 1185.9L608.8 1180.3L610.8 1174.5L612.7 1168.7L614.5 1162.8L616.4 1156.9L618.3 1151.0L620.4 1145.2L622.5 1139.5L624.8 1133.9L627.2 1128.4L629.8 1122.9L632.3 1117.5L635.0 1112.1L637.7 1106.7L640.5 1101.4L643.3 1096.1L646.2 1090.8L649.1 1085.5L652.1 1080.3L655.1 1075.1L658.2 1069.9L661.5 1064.9L664.9 1059.9L668.5 1055.0L672.3 1050.2L676.5 1045.8L681.0 1042.1L685.9 1039.1L691.4 1037.1L697.1 1036.0L703.0 1036.2L708.6 1037.5L713.8 1040.1L718.2 1043.6L721.9 1048.0L725.1 1053.1L728.0 1058.5L730.6 1064.0L733.1 1069.6L735.4 1075.1L737.7 1080.7L740.1 1086.2L742.5 1091.7L745.0 1097.2L747.6 1102.6L750.2 1108.0L752.9 1113.4L755.7 1118.7L758.4 1124.1L761.2 1129.4L764.0 1134.7L766.9 1140.0L769.7 1145.3L772.6 1150.6L775.4 1156.1L778.2 1161.9L781.0 1167.7L783.9 1173.2L787.3 1177.7L791.4 1180.8L796.4 1182.6L800.1 1183.5L803.7 1195.4L807.6 1200.0L811.7 1204.4L815.8 1208.7L820.2 1212.8L824.7 1216.7L829.4 1220.5L834.1 1224.3L838.8 1228.0L843.5 1231.8L848.2 1235.6L852.8 1239.5L857.6 1243.1L862.5 1246.7L867.6 1250.0L872.9 1253.0L878.3 1255.2L884.0 1256.6L889.8 1257.2L895.7 1257.3L901.7 1257.3L907.7 1256.9L913.6 1256.0L919.5 1254.7L925.3 1253.2L931.1 1251.5L937.0 1250.1L942.8 1248.9L948.8 1248.1L954.7 1247.6L960.8 1247.4L966.8 1247.4L972.7 1247.8L978.5 1248.7L984.1 1250.4L989.6 1252.8L994.9 1255.6L1000.1 1258.6L1005.3 1261.7L1010.4 1264.9L1015.4 1268.2L1020.6 1271.3L1025.8 1274.1L1031.3 1276.7L1036.8 1278.9L1042.5 1280.8L1048.3 1282.4L1054.2 1283.6L1060.1 1284.5L1066.0 1285.1L1072.0 1285.5L1078.0 1285.8L1084.1 1285.9L1090.1 1285.9L1096.1 1285.7L1102.1 1285.3L1108.1 1284.8L1114.0 1284.2L1120.0 1283.5L1126.0 1283.0L1132.0 1282.6L1138.0 1282.5L1144.0 1282.7L1150.0 1283.1L1155.9 1283.7L1161.9 1284.6L1167.8 1285.5L1173.7 1286.6L1179.6 1287.8L1185.6 1288.8L1191.5 1289.6L1197.5 1289.9L1203.5 1290.1L1209.5 1290.1L1215.5 1289.9L1221.4 1289.4L1227.3 1288.4L1233.0 1286.8L1238.7 1284.8L1244.2 1282.4L1249.6 1279.8L1254.9 1276.9L1260.0 1273.8L1265.0 1270.5L1270.0 1267.1L1274.9 1263.6L1279.7 1260.1L1284.6 1256.6L1289.6 1253.1L1294.5 1249.7L1299.4 1246.3L1304.3 1242.8L1309.2 1239.3L1314.0 1235.7L1318.8 1232.0L1323.5 1228.3L1328.2 1224.5L1332.8 1220.7L1337.3 1216.7L1341.8 1212.7L1346.2 1208.6L1350.5 1204.4L1354.8 1200.1L1358.9 1195.8L1362.9 1191.3L1366.7 1186.7L1370.5 1182.0L1374.1 1177.2L1377.6 1172.3L1381.0 1167.4L1384.3 1162.3L1387.4 1157.2L1390.3 1152.0L1393.2 1146.7L1395.9 1141.4L1398.7 1136.0L1401.5 1130.7L1404.3 1125.4L1407.3 1120.2L1410.5 1115.1L1413.7 1110.0L1416.9 1104.9L1420.1 1099.9L1423.3 1094.7L1426.4 1089.6L1429.4 1084.4L1432.4 1079.2L1435.4 1074.0L1438.3 1068.7L1441.3 1063.5L1444.3 1058.3L1447.3 1053.1L1450.3 1047.9L1453.3 1042.7L1456.4 1037.5L1459.4 1032.3L1462.5 1027.2L1465.6 1022.0L1468.6 1016.9L1471.8 1011.7L1474.9 1006.6L1478.1 1001.5L1481.3 996.4L1484.5 991.3L1487.7 986.2L1490.8 981.1L1494.0 976.0L1497.1 970.9L1500.2 965.8L1503.3 960.6L1506.4 955.4L1509.3 950.2L1512.1 944.9L1514.8 939.5L1517.4 934.1L1520.0 928.7L1522.5 923.2L1524.9 917.7L1527.4 912.2L1529.9 906.8L1532.4 901.3L1535.0 895.9L1537.5 890.4L1540.0 885.0L1542.5 879.5L1545.0 874.0L1547.5 868.6L1550.0 863.1L1552.5 857.6L1555.1 852.2L1557.8 846.8L1560.5 841.5L1563.4 836.2L1566.2 831.0L1569.1 825.7L1572.0 820.4L1574.9 815.1L1577.7 809.8L1580.6 804.5L1583.6 799.3L1586.7 794.2L1590.1 789.2L1593.6 784.4L1597.4 779.7L1601.5 775.3L1605.9 771.2L1610.5 767.4L1615.5 764.0L1620.7 761.0L1626.2 758.9L1631.9 757.8L1637.8 757.4L1643.8 757.3L1649.7 757.7L1655.5 758.3L1661.2 759.1L1667.0 759.6L1672.9 759.6L1678.8 759.0L1684.7 758.0L1690.5 756.9L1696.4 755.7L1702.2 754.3L1707.9 752.5L1713.6 750.5L1719.3 748.8L1725.2 747.5L1731.1 746.9L1736.9 747.3L1742.6 748.6L1748.0 750.9L1752.8 754.1L1757.1 758.1L1760.9 762.7L1764.3 767.7L1767.3 772.9L1770.0 778.3L1772.6 783.8L1774.9 789.3L1777.0 794.9L1778.9 800.6L1780.8 806.3L1782.5 812.1L1784.2 817.9L1785.8 823.7L1787.4 829.5L1788.9 835.3L1790.4 841.1L1791.8 846.9L1793.2 852.8L1794.6 858.6L1795.9 864.5L1797.2 870.4L1798.4 876.2L1799.6 882.1L1800.7 888.0L1801.9 893.9L1803.1 899.8L1804.2 905.7L1805.4 911.6L1806.7 917.5L1807.9 923.4L1809.2 929.2L1810.4 935.1L1811.7 941.0L1812.9 946.9L1814.1 952.7L1815.3 958.6L1816.4 964.5L1817.5 970.4L1818.6 976.4L1819.6 982.3L1820.7 988.2L1821.7 994.1L1822.8 1000.0L1823.8 1005.9L1824.9 1011.8L1826.0 1017.8L1827.1 1023.7L1828.2 1029.6L1829.4 1035.5L1830.5 1041.4L1831.6 1047.3L1832.7 1053.2L1833.8 1059.1L1834.9 1065.0L1836.1 1070.9L1837.2 1076.8L1838.3 1082.7L1839.4 1088.6L1840.5 1094.5L1841.6 1100.4L1842.6 1106.3L1843.7 1112.2L1844.8 1118.2L1845.8 1124.1L1846.9 1130.0L1847.9 1135.9L1849.0 1141.8L1850.1 1147.7L1851.2 1153.6L1852.3 1159.5L1853.5 1165.4L1854.6 1171.3L1855.8 1177.2L1857.0 1183.1L1858.2 1189.0L1859.4 1194.9L1860.7 1200.7L1862.0 1206.6L1863.3 1212.5L1864.6 1218.3L1866.0 1224.2L1867.4 1230.0L1868.8 1235.9L1870.2 1241.7L1871.7 1247.5L1873.2 1253.4L1874.7 1259.2L1876.2 1265.0L1877.8 1270.8L1879.2 1276.6L1880.6 1282.5L1881.9 1288.3L1883.1 1294.2L1884.4 1300.1L1885.7 1305.9L1887.2 1311.8L1888.7 1317.6L1890.3 1323.4L1892.0 1329.1L1893.7 1334.9L1895.5 1340.6L1897.3 1346.4L1899.2 1352.1L1901.2 1357.7L1903.2 1363.4L1905.2 1369.1L1907.3 1374.7L1909.5 1380.3L1911.8 1385.8L1914.1 1391.4L1916.5 1396.9L1919.0 1402.4L1921.6 1407.8L1924.3 1413.1L1927.1 1418.5L1930.1 1423.7L1933.3 1428.8L1936.6 1433.8L1940.2 1438.6L1944.0 1443.2L1948.1 1447.6L1952.3 1451.9L1956.6 1456.0L1961.1 1460.0L1965.8 1463.8L1970.6 1467.4L1975.6 1470.7L1980.8 1473.6L1986.2 1476.2L1991.7 1478.5L1997.4 1480.7L2003.0 1482.7L2008.7 1484.7L2014.4 1486.5L2020.2 1488.3L2026.0 1489.8L2031.8 1491.1L2037.7 1492.2L2043.7 1493.1L2049.6 1493.8L2055.6 1494.3L2061.6 1494.7L2067.6 1495.1L2073.6 1495.3L2079.6 1495.6L2085.6 1495.8L2091.6 1496.0L2097.6 1496.1L2103.6 1496.3L2109.6 1496.4L2115.7 1496.5L2121.7 1496.6L2127.7 1496.7L2133.7 1496.8L2139.7 1496.9L2145.7 1496.9L2151.7 1497.0L2157.7 1497.0L2163.7 1497.1L2169.7 1497.1L2175.7 1497.2L2181.7 1497.2L2187.8 1497.3L2193.8 1497.3L2199.8 1497.3L2205.8 1497.3L2211.8 1497.3L2217.8 1497.3L2223.8 1497.4L2229.8 1497.4L2235.8 1497.4L2241.8 1497.4L2247.8 1497.4L2253.8 1497.4L2259.8 1497.4L2265.9 1497.4L2271.9 1497.4L2277.9 1497.4L2283.9 1497.4L2289.9 1497.5L2295.9 1497.5L2301.9 1497.5L2307.9 1497.5L2313.9 1497.5L2319.9 1497.5L2325.9 1497.5L2331.9 1497.5L2338.0 1497.5L2344.0 1497.5L2350.0 1497.5L2356.0 1497.5L2362.0 1497.5L2368.0 1497.5L2370.0 1497.5"/>
</g>
<g class="sans" font-size="75.4" fill="#000000" stroke="#000000" stroke-width="0.7" text-anchor="end">
<text transform="translate(249 1524.2) scale(1 1.04)">0.0</text>
<text transform="translate(249 1285.1) scale(1 1.04)">0.1</text>
<text transform="translate(249 1046.0) scale(1 1.04)">0.2</text>
<text transform="translate(249 807.0) scale(1 1.04)">0.3</text>
<text transform="translate(249 567.9) scale(1 1.04)">0.4</text>
<text transform="translate(249 328.8) scale(1 1.04)">0.5</text>
<text transform="translate(249 89.7) scale(1 1.04)">0.6</text>
</g>
<g class="sans" font-size="75.4" fill="#000000" stroke="#000000" stroke-width="0.7" text-anchor="middle">
<text transform="translate(277.2 1588.8) scale(1 1.04)">200</text>
<text transform="translate(625.4 1588.8) scale(1 1.04)">300</text>
<text transform="translate(973.6 1588.8) scale(1 1.04)">400</text>
<text transform="translate(1321.9 1588.8) scale(1 1.04)">500</text>
<text transform="translate(1670.1 1588.8) scale(1 1.04)">600</text>
<text transform="translate(2018.3 1588.8) scale(1 1.04)">700</text>
<text transform="translate(2366.5 1588.8) scale(1 1.04)">800</text>
</g>
<text class="serif" font-size="109" fill="#000000" stroke="#000000" stroke-width="0.6" x="1176.5" y="1730.5">λ<tspan dx="3.5"> (nm)</tspan></text>
<text class="serif" font-size="109" fill="#000000" stroke="#000000" stroke-width="0.6" text-anchor="middle" letter-spacing="-0.45" transform="translate(107 746.3) rotate(-90)">Absorbance (a.u)</text>
<text class="serif" font-size="87" fill="#000000" text-anchor="middle" x="1221" y="1847">(<tspan font-weight="bold">b</tspan>)</text>
<g id="legend" class="serif" font-size="69" fill="#000000" stroke="#000000" stroke-width="0.5">
<rect x="851" y="135.8" width="140" height="6.4" rx="2" ry="2" fill="#000000" stroke="none"/>
<text transform="translate(1004.5 159.9) scale(1 1.035)">t= 0 min</text>
<rect x="851" y="221.6" width="140" height="6.4" rx="2" ry="2" fill="#0000ff" stroke="none"/>
<text transform="translate(1004.5 245.7) scale(1 1.035)">t= 10 min</text>
<rect x="851" y="307.4" width="140" height="6.4" rx="2" ry="2" fill="#00ff00" stroke="none"/>
<text transform="translate(1004.5 331.5) scale(1 1.035)">t= 30 min</text>
<rect x="851" y="393.2" width="140" height="6.4" rx="2" ry="2" fill="#9900ff" stroke="none"/>
<text transform="translate(1004.5 417.3) scale(1 1.035)">t= 60 min</text>
<rect x="851" y="479.0" width="140" height="6.4" rx="2" ry="2" fill="#960000" stroke="none"/>
<text transform="translate(1004.5 503.1) scale(1 1.035)">t= 120 min</text>
<rect x="851" y="564.8" width="140" height="6.4" rx="2" ry="2" fill="#ff0080" stroke="none"/>
<text transform="translate(1004.5 588.9) scale(1 1.035)">t= 270 min</text>
</g>
<text class="serif" font-size="70.3" font-weight="bold" fill="#000000" transform="translate(1634.5 330.7) scale(1 1.03)">618 nm</text>
</svg>
</body>
</html>
